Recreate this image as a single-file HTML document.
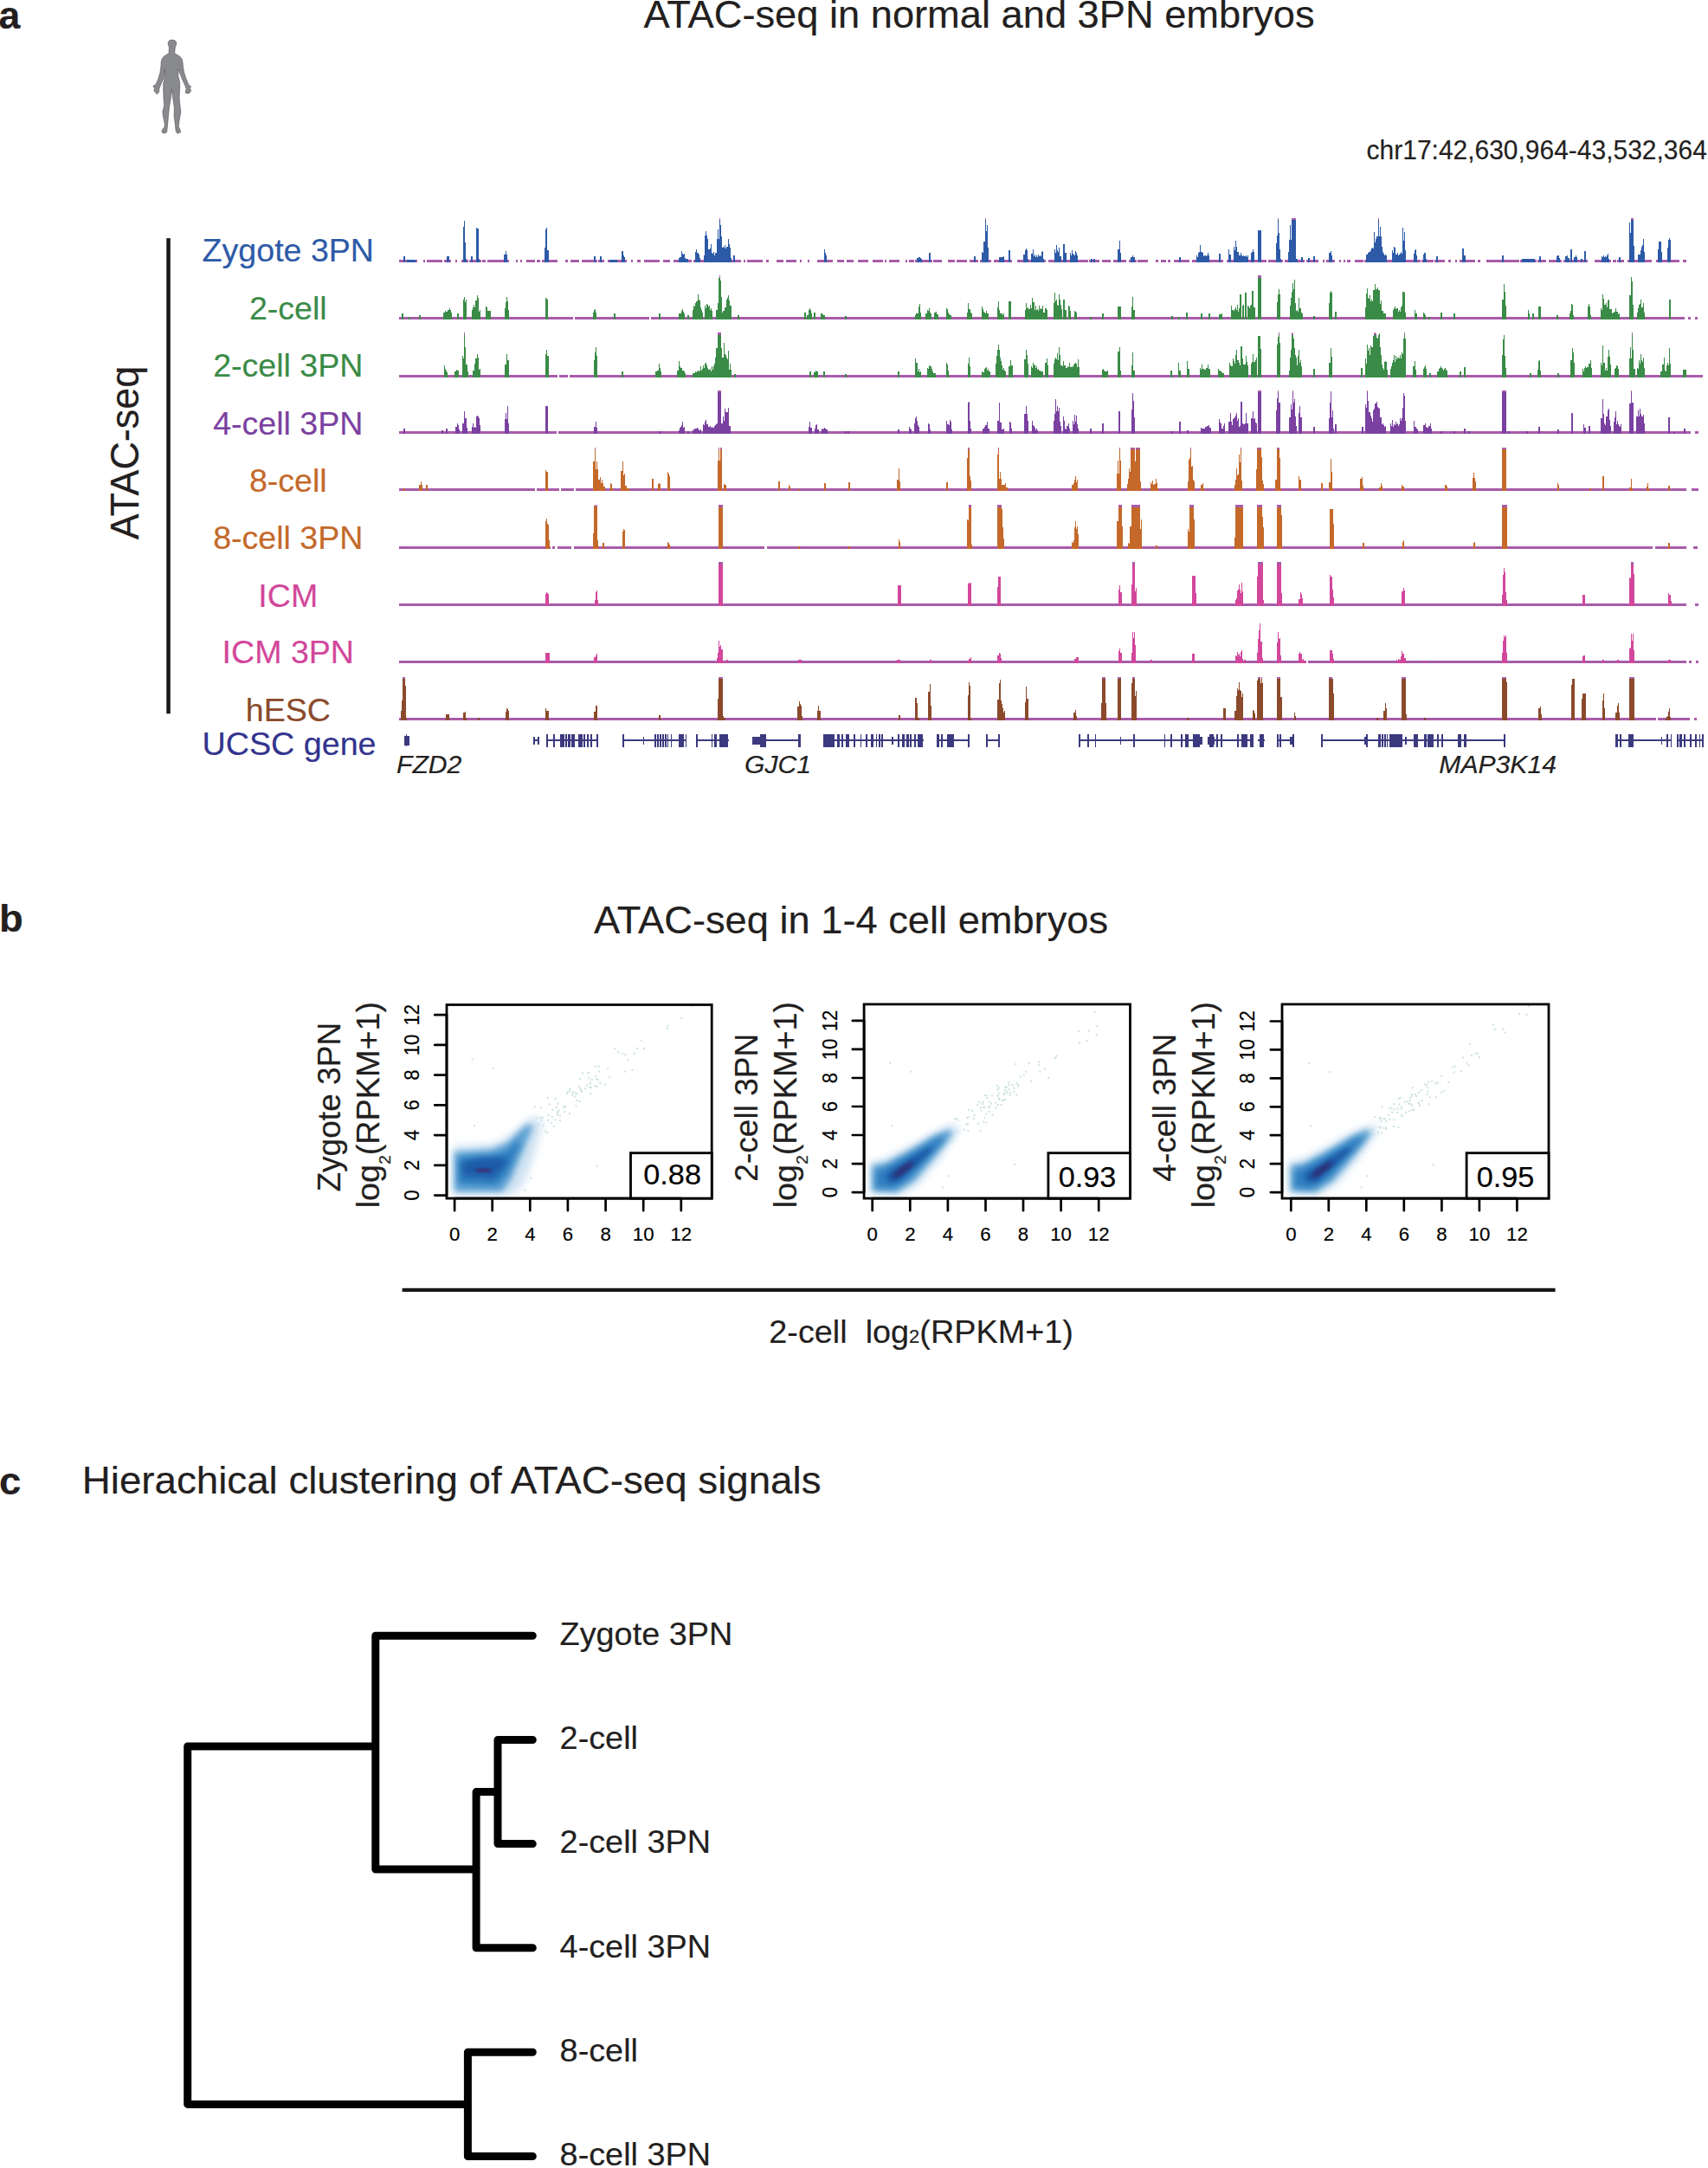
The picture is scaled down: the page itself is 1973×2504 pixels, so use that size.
<!DOCTYPE html>
<html><head><meta charset="utf-8"><title>ATAC-seq figure</title>
<style>html,body{margin:0;padding:0;background:#fff}svg{display:block}text{font-family:"Liberation Sans", Arial, Helvetica, sans-serif;stroke-width:0.18px;paint-order:stroke fill}</style>
</head><body>
<svg width="1973" height="2504" viewBox="0 0 1973 2504">
<rect width="1973" height="2504" fill="#fff"/>
<g shape-rendering="crispEdges">
<path d="M460.5 300.0h8.0v3h-8.0zM471.5 300.0h10.0v3h-10.0zM488.5 300.0h2.0v3h-2.0zM492.5 300.0h18.0v3h-18.0zM512.5 300.0h8.0v3h-8.0zM525.5 300.0h2.0v3h-2.0zM532.5 300.0h4.0v3h-4.0zM538.5 300.0h2.0v3h-2.0zM544.5 300.0h10.0v3h-10.0zM556.5 300.0h4.0v3h-4.0zM562.5 300.0h18.0v3h-18.0zM584.5 300.0h2.0v3h-2.0zM595.5 300.0h2.0v3h-2.0zM600.5 300.0h2.0v3h-2.0zM607.5 300.0h10.0v3h-10.0zM619.5 300.0h4.0v3h-4.0zM625.5 300.0h18.0v3h-18.0zM652.5 300.0h3.0v3h-3.0zM658.5 300.0h10.0v3h-10.0zM671.5 300.0h18.0v3h-18.0zM691.5 300.0h6.0v3h-6.0zM702.5 300.0h3.0v3h-3.0zM707.5 300.0h4.0v3h-4.0zM714.5 300.0h2.0v3h-2.0zM721.5 300.0h2.0v3h-2.0zM728.5 300.0h2.0v3h-2.0zM735.5 300.0h4.0v3h-4.0zM743.5 300.0h18.0v3h-18.0zM765.5 300.0h8.0v3h-8.0zM777.5 300.0h12.0v3h-12.0zM792.5 300.0h6.0v3h-6.0zM801.5 300.0h3.0v3h-3.0zM811.5 300.0h4.0v3h-4.0zM817.5 300.0h6.0v3h-6.0zM828.5 300.0h12.0v3h-12.0zM843.5 300.0h12.0v3h-12.0zM858.5 300.0h2.0v3h-2.0zM862.5 300.0h18.0v3h-18.0zM884.5 300.0h3.0v3h-3.0zM896.5 300.0h8.0v3h-8.0zM907.5 300.0h12.0v3h-12.0zM923.5 300.0h2.0v3h-2.0zM932.5 300.0h2.0v3h-2.0zM943.5 300.0h18.0v3h-18.0zM966.5 300.0h8.0v3h-8.0zM977.5 300.0h8.0v3h-8.0zM990.5 300.0h12.0v3h-12.0zM1007.5 300.0h12.0v3h-12.0zM1021.5 300.0h2.0v3h-2.0zM1026.5 300.0h12.0v3h-12.0zM1045.5 300.0h2.0v3h-2.0zM1049.5 300.0h6.0v3h-6.0zM1062.5 300.0h12.0v3h-12.0zM1077.5 300.0h10.0v3h-10.0zM1094.5 300.0h8.0v3h-8.0zM1104.5 300.0h12.0v3h-12.0zM1119.5 300.0h3.0v3h-3.0zM1127.5 300.0h2.0v3h-2.0zM1133.5 300.0h2.0v3h-2.0zM1138.5 300.0h6.0v3h-6.0zM1147.5 300.0h4.0v3h-4.0zM1155.5 300.0h10.0v3h-10.0zM1174.5 300.0h12.0v3h-12.0zM1188.5 300.0h3.0v3h-3.0zM1195.5 300.0h10.0v3h-10.0zM1210.5 300.0h6.0v3h-6.0zM1219.5 300.0h10.0v3h-10.0zM1238.5 300.0h18.0v3h-18.0zM1259.5 300.0h10.0v3h-10.0zM1272.5 300.0h10.0v3h-10.0zM1285.5 300.0h3.0v3h-3.0zM1290.5 300.0h3.0v3h-3.0zM1296.5 300.0h4.0v3h-4.0zM1307.5 300.0h4.0v3h-4.0zM1313.5 300.0h12.0v3h-12.0zM1334.5 300.0h3.0v3h-3.0zM1340.5 300.0h6.0v3h-6.0zM1348.5 300.0h3.0v3h-3.0zM1355.5 300.0h18.0v3h-18.0zM1376.5 300.0h8.0v3h-8.0zM1387.5 300.0h18.0v3h-18.0zM1410.5 300.0h2.0v3h-2.0zM1416.5 300.0h18.0v3h-18.0zM1438.5 300.0h10.0v3h-10.0zM1452.5 300.0h10.0v3h-10.0zM1464.5 300.0h12.0v3h-12.0zM1483.5 300.0h10.0v3h-10.0zM1495.5 300.0h4.0v3h-4.0zM1501.5 300.0h4.0v3h-4.0zM1509.5 300.0h3.0v3h-3.0zM1514.5 300.0h8.0v3h-8.0zM1527.5 300.0h2.0v3h-2.0zM1531.5 300.0h2.0v3h-2.0zM1538.5 300.0h3.0v3h-3.0zM1546.5 300.0h2.0v3h-2.0zM1551.5 300.0h2.0v3h-2.0zM1555.5 300.0h4.0v3h-4.0zM1564.5 300.0h10.0v3h-10.0zM1577.5 300.0h6.0v3h-6.0zM1586.5 300.0h8.0v3h-8.0zM1598.5 300.0h2.0v3h-2.0zM1602.5 300.0h12.0v3h-12.0zM1618.5 300.0h12.0v3h-12.0zM1634.5 300.0h6.0v3h-6.0zM1642.5 300.0h3.0v3h-3.0zM1647.5 300.0h8.0v3h-8.0zM1662.5 300.0h6.0v3h-6.0zM1672.5 300.0h3.0v3h-3.0zM1680.5 300.0h2.0v3h-2.0zM1685.5 300.0h18.0v3h-18.0zM1706.5 300.0h3.0v3h-3.0zM1716.5 300.0h18.0v3h-18.0zM1736.5 300.0h18.0v3h-18.0zM1757.5 300.0h2.0v3h-2.0zM1766.5 300.0h6.0v3h-6.0zM1777.5 300.0h8.0v3h-8.0zM1788.5 300.0h8.0v3h-8.0zM1805.5 300.0h4.0v3h-4.0zM1814.5 300.0h18.0v3h-18.0zM1841.5 300.0h18.0v3h-18.0zM1862.5 300.0h4.0v3h-4.0zM1871.5 300.0h4.0v3h-4.0zM1884.5 300.0h4.0v3h-4.0zM1897.5 300.0h10.0v3h-10.0zM1914.5 300.0h4.0v3h-4.0zM1921.5 300.0h18.0v3h-18.0zM1943.5 300.0h4.0v3h-4.0zM464.0 300.0h18.0v3h-18.0zM514.0 300.0h7.0v3h-7.0zM533.0 300.0h8.0v3h-8.0zM542.0 300.0h6.0v3h-6.0zM548.0 300.0h8.0v3h-8.0zM580.0 300.0h8.0v3h-8.0zM627.0 300.0h9.0v3h-9.0zM684.0 300.0h6.0v3h-6.0zM691.0 300.0h6.0v3h-6.0zM702.0 300.0h13.0v3h-13.0zM716.0 300.0h8.0v3h-8.0zM782.0 300.0h15.0v3h-15.0zM801.0 300.0h10.0v3h-10.0zM811.0 300.0h40.0v3h-40.0zM950.0 300.0h7.0v3h-7.0zM1057.0 300.0h10.0v3h-10.0zM1071.0 300.0h6.0v3h-6.0zM1123.0 300.0h6.0v3h-6.0zM1132.0 300.0h12.0v3h-12.0zM1152.0 300.0h10.0v3h-10.0zM1163.0 300.0h6.0v3h-6.0zM1180.0 300.0h10.0v3h-10.0zM1189.0 300.0h19.0v3h-19.0zM1216.0 300.0h18.0v3h-18.0zM1234.0 300.0h13.0v3h-13.0zM1258.0 300.0h9.0v3h-9.0zM1289.0 300.0h8.0v3h-8.0zM1304.0 300.0h9.0v3h-9.0zM1360.0 300.0h6.0v3h-6.0zM1380.0 300.0h19.0v3h-19.0zM1406.0 300.0h6.0v3h-6.0zM1417.0 300.0h7.0v3h-7.0zM1423.0 300.0h21.0v3h-21.0zM1443.0 300.0h8.0v3h-8.0zM1451.0 300.0h8.0v3h-8.0zM1472.0 300.0h10.0v3h-10.0zM1486.0 300.0h15.0v3h-15.0zM1501.0 300.0h6.0v3h-6.0zM1509.0 300.0h6.0v3h-6.0zM1515.0 300.0h6.0v3h-6.0zM1533.0 300.0h8.0v3h-8.0zM1576.0 300.0h28.0v3h-28.0zM1606.0 300.0h20.0v3h-20.0zM1631.0 300.0h8.0v3h-8.0zM1642.0 300.0h8.0v3h-8.0zM1657.0 300.0h6.0v3h-6.0zM1687.0 300.0h8.0v3h-8.0zM1733.0 300.0h6.0v3h-6.0zM1756.0 300.0h19.0v3h-19.0zM1776.0 300.0h6.0v3h-6.0zM1796.0 300.0h8.0v3h-8.0zM1806.0 300.0h18.0v3h-18.0zM1824.0 300.0h10.0v3h-10.0zM1848.0 300.0h13.0v3h-13.0zM1868.0 300.0h6.0v3h-6.0zM1880.0 300.0h10.0v3h-10.0zM1890.0 300.0h12.0v3h-12.0zM1913.0 300.0h9.0v3h-9.0zM1924.0 300.0h8.0v3h-8.0z" fill="#a85ca9"/>
<path d="M466 303.0V296.3H468V303.0zM470 303.0V299.7H480V303.0zM516 303.0V296.3H519V303.0zM535 303.0V261.7H536V303.0zM536 303.0V255.2H537V303.0zM537 303.0V279.5H538V303.0zM538 303.0V298.5H539V303.0zM544 303.0V296.3H546V303.0zM550 303.0V263.4H551V303.0zM551 303.0V263.9H553V303.0zM553 303.0V298.5H554V303.0zM582 303.0V293.5H584V303.0zM584 303.0V289.9H585V303.0zM585 303.0V293.9H586V303.0zM629 303.0V285.5H630V303.0zM630 303.0V265.0H631V303.0zM631 303.0V263.4H632V303.0zM632 303.0V288.5H634V303.0zM686 303.0V296.3H688V303.0zM693 303.0V296.3H695V303.0zM704 303.0V299.7H713V303.0zM718 303.0V289.9H719V303.0zM719 303.0V290.4H720V303.0zM720 303.0V295.4H721V303.0zM721 303.0V297.0H722V303.0zM784 303.0V297.5H785V303.0zM785 303.0V296.9H787V303.0zM787 303.0V289.9H788V303.0zM788 303.0V292.5H789V303.0zM789 303.0V293.8H790V303.0zM790 303.0V293.3H791V303.0zM791 303.0V298.2H792V303.0zM792 303.0V298.7H793V303.0zM793 303.0V298.6H794V303.0zM794 303.0V298.5H795V303.0zM803 303.0V290.8H804V303.0zM804 303.0V287.8H805V303.0zM805 303.0V291.7H807V303.0zM807 303.0V294.3H808V303.0zM808 303.0V297.5H809V303.0zM813 303.0V295.4H814V303.0zM814 303.0V272.4H815V303.0zM815 303.0V266.5H816V303.0zM816 303.0V272.4H817V303.0zM817 303.0V275.6H818V303.0zM818 303.0V288.3H820V303.0zM820 303.0V287.1H821V303.0zM821 303.0V281.7H822V303.0zM822 303.0V292.4H823V303.0zM823 303.0V292.7H824V303.0zM824 303.0V290.8H825V303.0zM825 303.0V294.6H826V303.0zM826 303.0V292.0H828V303.0zM828 303.0V275.9H829V303.0zM829 303.0V265.0H830V303.0zM830 303.0V275.9H831V303.0zM831 303.0V251.9H832V303.0zM832 303.0V260.4H833V303.0zM833 303.0V272.5H834V303.0zM834 303.0V286.2H835V303.0zM835 303.0V284.8H836V303.0zM836 303.0V286.4H837V303.0zM837 303.0V283.2H838V303.0zM838 303.0V286.5H839V303.0zM839 303.0V284.7H841V303.0zM841 303.0V276.2H842V303.0zM842 303.0V281.5H843V303.0zM843 303.0V286.3H844V303.0zM844 303.0V297.5H845V303.0zM847 303.0V294.8H849V303.0zM952 303.0V288.4H953V303.0zM953 303.0V291.6H954V303.0zM954 303.0V295.4H955V303.0zM1059 303.0V298.0H1061V303.0zM1061 303.0V296.9H1062V303.0zM1062 303.0V297.1H1063V303.0zM1063 303.0V298.0H1064V303.0zM1064 303.0V298.5H1065V303.0zM1073 303.0V291.8H1075V303.0zM1125 303.0V296.3H1127V303.0zM1134 303.0V290.8H1135V303.0zM1135 303.0V292.0H1136V303.0zM1136 303.0V278.7H1137V303.0zM1137 303.0V279.4H1138V303.0zM1138 303.0V251.9H1139V303.0zM1139 303.0V267.4H1140V303.0zM1140 303.0V260.4H1141V303.0zM1141 303.0V286.2H1142V303.0zM1154 303.0V296.8H1156V303.0zM1156 303.0V296.6H1157V303.0zM1157 303.0V296.5H1159V303.0zM1159 303.0V296.3H1160V303.0zM1165 303.0V288.7H1167V303.0zM1182 303.0V293.9H1183V303.0zM1183 303.0V294.4H1184V303.0zM1184 303.0V289.3H1185V303.0zM1185 303.0V286.9H1186V303.0zM1186 303.0V288.9H1187V303.0zM1187 303.0V298.5H1188V303.0zM1191 303.0V293.2H1193V303.0zM1193 303.0V288.4H1194V303.0zM1194 303.0V295.8H1195V303.0zM1195 303.0V293.9H1196V303.0zM1196 303.0V297.1H1197V303.0zM1197 303.0V295.4H1198V303.0zM1198 303.0V296.6H1199V303.0zM1199 303.0V293.9H1200V303.0zM1200 303.0V296.3H1201V303.0zM1201 303.0V295.4H1202V303.0zM1202 303.0V295.5H1203V303.0zM1203 303.0V291.1H1204V303.0zM1204 303.0V289.9H1205V303.0zM1205 303.0V298.5H1206V303.0zM1218 303.0V287.8H1219V303.0zM1219 303.0V292.0H1220V303.0zM1220 303.0V283.2H1221V303.0zM1221 303.0V289.0H1222V303.0zM1222 303.0V290.9H1223V303.0zM1223 303.0V286.3H1224V303.0zM1224 303.0V296.4H1226V303.0zM1228 303.0V281.7H1230V303.0zM1230 303.0V292.4H1232V303.0zM1236 303.0V292.4H1237V303.0zM1237 303.0V294.9H1238V303.0zM1238 303.0V289.3H1239V303.0zM1239 303.0V292.5H1240V303.0zM1240 303.0V293.9H1241V303.0zM1241 303.0V295.1H1242V303.0zM1242 303.0V289.9H1243V303.0zM1243 303.0V291.5H1244V303.0zM1244 303.0V295.4H1245V303.0zM1260 303.0V298.5H1262V303.0zM1263 303.0V299.4H1265V303.0zM1291 303.0V287.8H1293V303.0zM1293 303.0V278.1H1294V303.0zM1294 303.0V292.1H1295V303.0zM1306 303.0V296.8H1308V303.0zM1308 303.0V294.8H1309V303.0zM1309 303.0V297.2H1311V303.0zM1362 303.0V296.9H1364V303.0zM1382 303.0V295.4H1383V303.0zM1383 303.0V296.7H1384V303.0zM1384 303.0V292.3H1385V303.0zM1385 303.0V290.8H1386V303.0zM1386 303.0V283.2H1387V303.0zM1387 303.0V291.1H1389V303.0zM1389 303.0V292.4H1390V303.0zM1390 303.0V296.3H1391V303.0zM1391 303.0V295.0H1392V303.0zM1392 303.0V295.4H1393V303.0zM1393 303.0V295.9H1394V303.0zM1394 303.0V295.1H1395V303.0zM1395 303.0V291.8H1396V303.0zM1396 303.0V295.4H1397V303.0zM1408 303.0V293.3H1410V303.0zM1419 303.0V288.4H1420V303.0zM1420 303.0V293.8H1422V303.0zM1425 303.0V284.8H1426V303.0zM1426 303.0V288.6H1427V303.0zM1427 303.0V278.1H1428V303.0zM1428 303.0V284.8H1429V303.0zM1429 303.0V290.7H1431V303.0zM1431 303.0V295.0H1433V303.0zM1433 303.0V292.4H1434V303.0zM1434 303.0V295.3H1435V303.0zM1435 303.0V295.9H1436V303.0zM1436 303.0V295.4H1437V303.0zM1437 303.0V295.8H1439V303.0zM1439 303.0V294.5H1440V303.0zM1440 303.0V297.0H1441V303.0zM1441 303.0V295.4H1442V303.0zM1445 303.0V292.1H1446V303.0zM1446 303.0V290.8H1447V303.0zM1447 303.0V288.4H1448V303.0zM1448 303.0V290.8H1449V303.0zM1453 303.0V265.6H1457V303.0zM1474 303.0V281.1H1475V303.0zM1475 303.0V272.4H1476V303.0zM1476 303.0V251.9H1477V303.0zM1477 303.0V268.8H1478V303.0zM1478 303.0V288.4H1479V303.0zM1479 303.0V298.5H1480V303.0zM1488 303.0V290.8H1489V303.0zM1489 303.0V276.6H1490V303.0zM1490 303.0V260.4H1491V303.0zM1491 303.0V276.6H1492V303.0zM1492 303.0V251.9H1497V303.0zM1497 303.0V298.8H1498V303.0zM1498 303.0V298.5H1499V303.0zM1503 303.0V296.9H1505V303.0zM1511 303.0V297.5H1513V303.0zM1517 303.0V296.3H1519V303.0zM1535 303.0V292.1H1537V303.0zM1537 303.0V289.9H1538V303.0zM1538 303.0V295.4H1539V303.0zM1578 303.0V293.5H1580V303.0zM1580 303.0V292.4H1581V303.0zM1581 303.0V291.0H1583V303.0zM1583 303.0V289.3H1584V303.0zM1584 303.0V286.7H1585V303.0zM1585 303.0V286.3H1586V303.0zM1586 303.0V286.7H1587V303.0zM1587 303.0V268.0H1588V303.0zM1588 303.0V280.4H1589V303.0zM1589 303.0V275.6H1590V303.0zM1590 303.0V272.6H1591V303.0zM1591 303.0V273.1H1592V303.0zM1592 303.0V251.9H1593V303.0zM1593 303.0V273.0H1594V303.0zM1594 303.0V261.9H1595V303.0zM1595 303.0V273.0H1596V303.0zM1596 303.0V284.8H1597V303.0zM1597 303.0V290.8H1598V303.0zM1598 303.0V293.0H1599V303.0zM1599 303.0V294.8H1600V303.0zM1600 303.0V293.9H1601V303.0zM1601 303.0V294.8H1602V303.0zM1608 303.0V289.3H1609V303.0zM1609 303.0V291.8H1610V303.0zM1610 303.0V284.8H1611V303.0zM1611 303.0V286.3H1612V303.0zM1612 303.0V294.0H1614V303.0zM1614 303.0V292.4H1615V303.0zM1615 303.0V294.5H1616V303.0zM1616 303.0V293.9H1617V303.0zM1617 303.0V292.6H1618V303.0zM1618 303.0V290.8H1619V303.0zM1619 303.0V292.6H1620V303.0zM1620 303.0V263.4H1621V303.0zM1621 303.0V278.1H1622V303.0zM1622 303.0V268.0H1623V303.0zM1623 303.0V288.5H1624V303.0zM1633 303.0V293.1H1634V303.0zM1634 303.0V288.6H1635V303.0zM1635 303.0V288.4H1636V303.0zM1636 303.0V295.4H1637V303.0zM1644 303.0V293.5H1645V303.0zM1645 303.0V292.4H1646V303.0zM1646 303.0V291.8H1647V303.0zM1647 303.0V298.5H1648V303.0zM1659 303.0V296.3H1661V303.0zM1689 303.0V286.9H1691V303.0zM1691 303.0V295.4H1693V303.0zM1735 303.0V294.8H1737V303.0zM1758 303.0V299.4H1773V303.0zM1778 303.0V296.3H1780V303.0zM1798 303.0V296.3H1799V303.0zM1799 303.0V295.4H1800V303.0zM1800 303.0V294.8H1801V303.0zM1801 303.0V298.2H1802V303.0zM1808 303.0V295.9H1810V303.0zM1810 303.0V295.4H1811V303.0zM1811 303.0V298.0H1813V303.0zM1814 303.0V288.4H1816V303.0zM1818 303.0V296.5H1820V303.0zM1820 303.0V295.4H1821V303.0zM1821 303.0V297.2H1822V303.0zM1826 303.0V298.5H1828V303.0zM1830 303.0V289.9H1832V303.0zM1850 303.0V296.3H1851V303.0zM1851 303.0V297.1H1852V303.0zM1852 303.0V294.8H1853V303.0zM1853 303.0V297.1H1854V303.0zM1854 303.0V296.3H1855V303.0zM1855 303.0V296.9H1856V303.0zM1856 303.0V295.2H1857V303.0zM1857 303.0V293.3H1858V303.0zM1858 303.0V298.5H1859V303.0zM1870 303.0V296.9H1872V303.0zM1882 303.0V257.4H1883V303.0zM1883 303.0V269.3H1884V303.0zM1884 303.0V251.9H1887V303.0zM1887 303.0V284.3H1888V303.0zM1892 303.0V293.9H1893V303.0zM1893 303.0V294.2H1895V303.0zM1895 303.0V288.6H1896V303.0zM1896 303.0V284.8H1897V303.0zM1897 303.0V283.2H1898V303.0zM1898 303.0V275.6H1899V303.0zM1899 303.0V290.8H1900V303.0zM1915 303.0V287.8H1916V303.0zM1916 303.0V279.1H1917V303.0zM1917 303.0V278.7H1918V303.0zM1918 303.0V279.1H1919V303.0zM1919 303.0V290.8H1920V303.0zM1926 303.0V285.8H1927V303.0zM1927 303.0V277.1H1928V303.0zM1928 303.0V275.0H1929V303.0zM1929 303.0V277.1H1930V303.0z" fill="#2d5aa7"/>
<path d="M831 251.9h1v2.2h-1zM1138 251.9h1v2.2h-1zM1476 251.9h1v2.2h-1zM1492 251.9h5v2.2h-5zM1592 251.9h1v2.2h-1zM1884 251.9h3v2.2h-3z" fill="#a85ca9"/>
<path d="M460.5 366.1H1946.0v3H460.5zM1950.0 366.1H1953.0v3H1950.0zM1958.0 366.1H1961.0v3H1958.0z" fill="#a85ca9"/>
<path d="M464 369.1V361.5H466V369.1zM472 369.1V365.5H474V369.1zM484 369.1V363.9H486V369.1zM512 369.1V360.9H513V369.1zM513 369.1V360.6H514V369.1zM514 369.1V359.4H515V369.1zM515 369.1V359.9H517V369.1zM517 369.1V357.7H519V369.1zM519 369.1V355.7H520V369.1zM520 369.1V357.7H521V369.1zM521 369.1V360.9H522V369.1zM528 369.1V362.4H530V369.1zM535 369.1V345.7H536V369.1zM536 369.1V343.2H537V369.1zM537 369.1V349.1H538V369.1zM538 369.1V345.7H539V369.1zM545 369.1V357.9H546V369.1zM546 369.1V354.5H547V369.1zM547 369.1V351.8H548V369.1zM548 369.1V355.3H549V369.1zM549 369.1V347.2H550V369.1zM550 369.1V347.3H551V369.1zM551 369.1V341.1H552V369.1zM552 369.1V344.2H553V369.1zM553 369.1V359.9H554V369.1zM554 369.1V357.9H555V369.1zM561 369.1V354.2H562V369.1zM562 369.1V354.7H563V369.1zM563 369.1V358.9H565V369.1zM565 369.1V358.7H566V369.1zM566 369.1V358.5H567V369.1zM583 369.1V356.1H584V369.1zM584 369.1V348.7H585V369.1zM585 369.1V342.6H586V369.1zM586 369.1V348.2H587V369.1zM587 369.1V357.9H588V369.1zM630 369.1V344.2H631V369.1zM631 369.1V344.7H632V369.1zM632 369.1V345.7H633V369.1zM685 369.1V360.9H686V369.1zM686 369.1V357.9H687V369.1zM687 369.1V357.2H688V369.1zM688 369.1V360.9H689V369.1zM709 369.1V361.5H711V369.1zM761 369.1V362.4H763V369.1zM784 369.1V361.7H787V369.1zM787 369.1V359.3H788V369.1zM788 369.1V357.2H789V369.1zM789 369.1V360.4H790V369.1zM790 369.1V362.4H791V369.1zM794 369.1V363.9H796V369.1zM800 369.1V357.9H801V369.1zM801 369.1V353.3H802V369.1zM802 369.1V354.2H803V369.1zM803 369.1V350.2H804V369.1zM804 369.1V348.1H806V369.1zM806 369.1V339.6H807V369.1zM807 369.1V345.7H808V369.1zM808 369.1V346.7H809V369.1zM809 369.1V354.8H810V369.1zM810 369.1V357.9H811V369.1zM811 369.1V360.9H812V369.1zM814 369.1V353.3H815V369.1zM815 369.1V355.5H816V369.1zM816 369.1V351.2H817V369.1zM817 369.1V351.7H818V369.1zM818 369.1V353.6H819V369.1zM819 369.1V353.3H820V369.1zM820 369.1V358.4H821V369.1zM821 369.1V356.3H822V369.1zM822 369.1V359.2H823V369.1zM827 369.1V357.9H829V369.1zM829 369.1V350.1H830V369.1zM830 369.1V321.3H831V369.1zM831 369.1V318.3H832V369.1zM832 369.1V324.4H833V369.1zM833 369.1V342.9H834V369.1zM834 369.1V360.9H835V369.1zM835 369.1V359.3H837V369.1zM837 369.1V354.8H838V369.1zM838 369.1V354.9H839V369.1zM839 369.1V345.7H840V369.1zM840 369.1V343.9H841V369.1zM841 369.1V341.1H842V369.1zM842 369.1V347.2H843V369.1zM843 369.1V352.6H845V369.1zM852 369.1V363.9H854V369.1zM929 369.1V360.9H931V369.1zM932 369.1V363.9H934V369.1zM934 369.1V358.3H935V369.1zM935 369.1V355.7H936V369.1zM936 369.1V358.4H937V369.1zM937 369.1V361.6H938V369.1zM940 369.1V360.9H942V369.1zM948 369.1V362.1H950V369.1zM950 369.1V362.6H951V369.1zM951 369.1V363.8H953V369.1zM976 369.1V364.6H978V369.1zM1057 369.1V363.9H1058V369.1zM1058 369.1V361.9H1059V369.1zM1059 369.1V361.5H1060V369.1zM1060 369.1V361.9H1061V369.1zM1061 369.1V353.8H1062V369.1zM1062 369.1V351.2H1063V369.1zM1063 369.1V360.9H1064V369.1zM1069 369.1V362.4H1070V369.1zM1070 369.1V362.0H1071V369.1zM1071 369.1V357.9H1072V369.1zM1072 369.1V358.9H1073V369.1zM1073 369.1V355.7H1074V369.1zM1074 369.1V360.7H1075V369.1zM1075 369.1V362.4H1076V369.1zM1079 369.1V361.2H1081V369.1zM1081 369.1V360.3H1082V369.1zM1082 369.1V362.5H1084V369.1zM1093 369.1V356.3H1094V369.1zM1094 369.1V357.1H1095V369.1zM1095 369.1V361.3H1096V369.1zM1096 369.1V362.8H1097V369.1zM1097 369.1V363.8H1099V369.1zM1117 369.1V360.9H1118V369.1zM1118 369.1V349.6H1119V369.1zM1119 369.1V356.8H1121V369.1zM1121 369.1V361.3H1122V369.1zM1122 369.1V362.4H1123V369.1zM1134 369.1V354.2H1135V369.1zM1135 369.1V356.7H1136V369.1zM1136 369.1V360.1H1137V369.1zM1137 369.1V360.9H1138V369.1zM1138 369.1V362.2H1139V369.1zM1139 369.1V359.4H1140V369.1zM1140 369.1V362.3H1141V369.1zM1141 369.1V361.5H1142V369.1zM1152 369.1V354.7H1153V369.1zM1153 369.1V348.1H1154V369.1zM1154 369.1V357.9H1155V369.1zM1155 369.1V361.8H1156V369.1zM1156 369.1V362.1H1157V369.1zM1157 369.1V361.5H1158V369.1zM1158 369.1V364.3H1159V369.1zM1159 369.1V362.4H1160V369.1zM1165 369.1V348.1H1168V369.1zM1184 369.1V357.9H1185V369.1zM1185 369.1V349.6H1186V369.1zM1186 369.1V356.4H1187V369.1zM1187 369.1V354.8H1188V369.1zM1188 369.1V356.7H1190V369.1zM1190 369.1V351.8H1191V369.1zM1191 369.1V355.5H1192V369.1zM1192 369.1V344.2H1193V369.1zM1193 369.1V348.8H1195V369.1zM1195 369.1V357.8H1196V369.1zM1196 369.1V353.3H1197V369.1zM1197 369.1V357.8H1198V369.1zM1198 369.1V357.2H1199V369.1zM1199 369.1V358.9H1200V369.1zM1200 369.1V353.3H1201V369.1zM1201 369.1V356.8H1202V369.1zM1202 369.1V356.3H1203V369.1zM1203 369.1V357.1H1204V369.1zM1204 369.1V353.3H1205V369.1zM1205 369.1V360.6H1207V369.1zM1207 369.1V356.3H1208V369.1zM1208 369.1V356.4H1209V369.1zM1209 369.1V357.9H1210V369.1zM1217 369.1V350.2H1218V369.1zM1218 369.1V338.1H1219V369.1zM1219 369.1V348.1H1220V369.1zM1220 369.1V345.7H1221V369.1zM1221 369.1V351.8H1222V369.1zM1222 369.1V353.3H1223V369.1zM1223 369.1V340.2H1224V369.1zM1224 369.1V345.5H1225V369.1zM1225 369.1V351.8H1226V369.1zM1226 369.1V357.4H1227V369.1zM1228 369.1V345.7H1230V369.1zM1230 369.1V357.9H1232V369.1zM1234 369.1V352.7H1235V369.1zM1235 369.1V353.6H1236V369.1zM1236 369.1V359.4H1237V369.1zM1241 369.1V359.4H1242V369.1zM1242 369.1V359.9H1243V369.1zM1243 369.1V361.2H1244V369.1zM1259 369.1V365.5H1261V369.1zM1273 369.1V362.4H1275V369.1zM1291 369.1V354.2H1295V369.1zM1307 369.1V353.8H1308V369.1zM1308 369.1V343.2H1309V369.1zM1309 369.1V357.8H1311V369.1zM1353 369.1V364.6H1355V369.1zM1361 369.1V365.5H1363V369.1zM1370 369.1V360.9H1372V369.1zM1387 369.1V362.4H1389V369.1zM1396 369.1V362.4H1398V369.1zM1408 369.1V363.3H1409V369.1zM1409 369.1V363.0H1411V369.1zM1411 369.1V362.4H1412V369.1zM1422 369.1V353.3H1423V369.1zM1423 369.1V358.0H1424V369.1zM1424 369.1V357.9H1425V369.1zM1425 369.1V359.4H1426V369.1zM1426 369.1V357.0H1427V369.1zM1427 369.1V354.8H1428V369.1zM1428 369.1V358.1H1429V369.1zM1429 369.1V351.8H1430V369.1zM1430 369.1V360.3H1431V369.1zM1431 369.1V356.3H1432V369.1zM1432 369.1V340.2H1434V369.1zM1435 369.1V353.2H1436V369.1zM1436 369.1V351.8H1437V369.1zM1438 369.1V338.1H1440V369.1zM1441 369.1V353.3H1442V369.1zM1442 369.1V354.3H1443V369.1zM1443 369.1V355.9H1444V369.1zM1444 369.1V352.9H1445V369.1zM1445 369.1V351.8H1446V369.1zM1446 369.1V335.9H1448V369.1zM1448 369.1V354.8H1450V369.1zM1453 369.1V318.3H1457V369.1zM1475 369.1V349.0H1476V369.1zM1476 369.1V340.2H1477V369.1zM1477 369.1V333.5H1478V369.1zM1478 369.1V340.2H1479V369.1zM1490 369.1V353.0H1491V369.1zM1491 369.1V344.2H1492V369.1zM1492 369.1V336.7H1493V369.1zM1493 369.1V327.4H1494V369.1zM1494 369.1V334.1H1495V369.1zM1495 369.1V322.8H1496V369.1zM1496 369.1V350.2H1497V369.1zM1497 369.1V358.9H1498V369.1zM1498 369.1V357.9H1499V369.1zM1499 369.1V359.7H1500V369.1zM1500 369.1V344.2H1501V369.1zM1501 369.1V355.9H1503V369.1zM1503 369.1V361.1H1504V369.1zM1504 369.1V362.4H1505V369.1zM1517 369.1V364.6H1519V369.1zM1535 369.1V350.2H1536V369.1zM1536 369.1V338.3H1537V369.1zM1537 369.1V335.9H1538V369.1zM1538 369.1V338.3H1539V369.1zM1542 369.1V360.3H1544V369.1zM1577 369.1V354.8H1578V369.1zM1578 369.1V339.3H1579V369.1zM1579 369.1V332.9H1580V369.1zM1580 369.1V344.2H1581V369.1zM1581 369.1V344.9H1582V369.1zM1582 369.1V341.1H1583V369.1zM1583 369.1V348.4H1584V369.1zM1584 369.1V345.7H1585V369.1zM1585 369.1V348.4H1586V369.1zM1586 369.1V334.9H1588V369.1zM1588 369.1V328.0H1589V369.1zM1589 369.1V333.6H1591V369.1zM1591 369.1V332.0H1592V369.1zM1592 369.1V335.4H1593V369.1zM1593 369.1V335.0H1594V369.1zM1594 369.1V350.9H1595V369.1zM1595 369.1V347.2H1596V369.1zM1596 369.1V358.8H1598V369.1zM1598 369.1V361.9H1600V369.1zM1600 369.1V361.5H1601V369.1zM1609 369.1V357.9H1610V369.1zM1610 369.1V356.2H1611V369.1zM1611 369.1V354.2H1612V369.1zM1612 369.1V357.3H1613V369.1zM1613 369.1V355.6H1615V369.1zM1615 369.1V359.9H1616V369.1zM1616 369.1V357.9H1617V369.1zM1617 369.1V360.3H1618V369.1zM1618 369.1V354.8H1619V369.1zM1619 369.1V353.4H1620V369.1zM1620 369.1V336.5H1621V369.1zM1621 369.1V337.3H1622V369.1zM1622 369.1V338.1H1623V369.1zM1623 369.1V360.9H1624V369.1zM1634 369.1V357.9H1635V369.1zM1635 369.1V361.7H1637V369.1zM1644 369.1V360.9H1645V369.1zM1645 369.1V362.1H1646V369.1zM1646 369.1V363.9H1647V369.1zM1650 369.1V365.5H1652V369.1zM1664 369.1V360.9H1666V369.1zM1679 369.1V361.5H1681V369.1zM1735 369.1V345.6H1737V369.1zM1737 369.1V328.0H1738V369.1zM1738 369.1V336.9H1739V369.1zM1739 369.1V353.3H1740V369.1zM1765 369.1V357.9H1766V369.1zM1766 369.1V361.6H1767V369.1zM1770 369.1V362.4H1772V369.1zM1777 369.1V354.2H1780V369.1zM1798 369.1V363.9H1800V369.1zM1813 369.1V362.4H1814V369.1zM1814 369.1V358.6H1815V369.1zM1815 369.1V351.2H1816V369.1zM1816 369.1V351.8H1817V369.1zM1817 369.1V363.9H1818V369.1zM1834 369.1V354.2H1835V369.1zM1835 369.1V351.2H1836V369.1zM1836 369.1V354.2H1837V369.1zM1837 369.1V363.9H1838V369.1zM1849 369.1V356.3H1850V369.1zM1850 369.1V358.3H1851V369.1zM1851 369.1V339.6H1852V369.1zM1852 369.1V345.4H1853V369.1zM1853 369.1V351.8H1854V369.1zM1854 369.1V352.0H1855V369.1zM1855 369.1V350.2H1856V369.1zM1856 369.1V355.0H1857V369.1zM1857 369.1V346.8H1858V369.1zM1858 369.1V345.7H1859V369.1zM1859 369.1V356.8H1862V369.1zM1862 369.1V361.8H1863V369.1zM1863 369.1V361.4H1864V369.1zM1864 369.1V360.9H1865V369.1zM1865 369.1V359.8H1866V369.1zM1866 369.1V355.7H1867V369.1zM1867 369.1V360.2H1869V369.1zM1869 369.1V362.6H1870V369.1zM1870 369.1V362.4H1871V369.1zM1882 369.1V341.2H1884V369.1zM1884 369.1V319.8H1885V369.1zM1885 369.1V324.9H1886V369.1zM1886 369.1V351.8H1887V369.1zM1891 369.1V360.9H1892V369.1zM1892 369.1V355.8H1893V369.1zM1893 369.1V351.8H1894V369.1zM1894 369.1V351.2H1895V369.1zM1895 369.1V345.7H1896V369.1zM1896 369.1V354.8H1897V369.1zM1897 369.1V355.1H1898V369.1zM1898 369.1V350.2H1899V369.1zM1899 369.1V360.9H1900V369.1zM1928 369.1V345.7H1930V369.1z" fill="#3a8b47"/>
<path d="M831 318.3h1v2.2h-1zM1453 318.3h4v2.2h-4z" fill="#a85ca9"/>
<path d="M460.5 432.5H1967.0v3H460.5z" fill="#a85ca9"/>
<path d="M513 435.5V422.4H514V435.5zM514 435.5V426.1H515V435.5zM515 435.5V427.9H516V435.5zM516 435.5V429.5H517V435.5zM525 435.5V429.3H527V435.5zM527 435.5V427.3H528V435.5zM528 435.5V428.4H530V435.5zM534 435.5V411.2H535V435.5zM535 435.5V413.7H536V435.5zM536 435.5V384.4H537V435.5zM537 435.5V400.5H538V435.5zM538 435.5V421.1H540V435.5zM540 435.5V429.4H541V435.5zM546 435.5V427.9H547V435.5zM547 435.5V428.2H548V435.5zM548 435.5V420.3H549V435.5zM549 435.5V414.2H550V435.5zM550 435.5V414.1H551V435.5zM551 435.5V409.0H552V435.5zM552 435.5V413.0H553V435.5zM553 435.5V427.2H554V435.5zM554 435.5V426.4H555V435.5zM583 435.5V421.3H585V435.5zM585 435.5V409.0H586V435.5zM586 435.5V416.0H588V435.5zM630 435.5V408.9H631V435.5zM631 435.5V404.2H632V435.5zM632 435.5V410.9H634V435.5zM686 435.5V415.7H687V435.5zM687 435.5V407.1H688V435.5zM688 435.5V401.1H689V435.5zM689 435.5V411.3H690V435.5zM718 435.5V429.4H720V435.5zM757 435.5V429.4H758V435.5zM758 435.5V429.1H759V435.5zM759 435.5V427.9H760V435.5zM760 435.5V428.1H761V435.5zM761 435.5V420.3H762V435.5zM762 435.5V425.2H763V435.5zM763 435.5V429.4H764V435.5zM782 435.5V427.7H784V435.5zM784 435.5V417.3H785V435.5zM785 435.5V423.3H786V435.5zM786 435.5V424.7H787V435.5zM787 435.5V424.9H788V435.5zM788 435.5V427.6H789V435.5zM789 435.5V427.9H790V435.5zM790 435.5V429.1H791V435.5zM791 435.5V431.0H792V435.5zM800 435.5V430.6H803V435.5zM803 435.5V429.4H804V435.5zM804 435.5V429.9H805V435.5zM805 435.5V428.6H806V435.5zM806 435.5V427.9H807V435.5zM807 435.5V428.6H808V435.5zM808 435.5V427.5H809V435.5zM809 435.5V423.3H810V435.5zM810 435.5V427.5H811V435.5zM811 435.5V426.4H812V435.5zM812 435.5V421.8H813V435.5zM813 435.5V425.1H814V435.5zM814 435.5V420.4H815V435.5zM815 435.5V418.8H816V435.5zM816 435.5V422.1H817V435.5zM817 435.5V424.9H818V435.5zM818 435.5V427.2H820V435.5zM820 435.5V426.4H821V435.5zM821 435.5V428.7H822V435.5zM822 435.5V423.3H823V435.5zM823 435.5V426.8H824V435.5zM824 435.5V423.1H825V435.5zM825 435.5V420.3H826V435.5zM826 435.5V412.7H827V435.5zM827 435.5V402.3H829V435.5zM829 435.5V384.4H833V435.5zM833 435.5V401.8H834V435.5zM834 435.5V412.6H836V435.5zM836 435.5V395.9H837V435.5zM837 435.5V408.6H838V435.5zM838 435.5V409.6H839V435.5zM839 435.5V412.7H840V435.5zM840 435.5V414.7H841V435.5zM841 435.5V405.1H842V435.5zM842 435.5V427.0H843V435.5zM843 435.5V420.3H844V435.5zM844 435.5V427.0H845V435.5zM848 435.5V431.6H850V435.5zM935 435.5V429.4H937V435.5zM940 435.5V430.1H942V435.5zM942 435.5V427.9H943V435.5zM943 435.5V429.3H945V435.5zM951 435.5V429.4H953V435.5zM976 435.5V431.6H978V435.5zM1037 435.5V429.4H1039V435.5zM1057 435.5V414.2H1058V435.5zM1058 435.5V418.5H1060V435.5zM1060 435.5V428.7H1061V435.5zM1061 435.5V426.4H1062V435.5zM1062 435.5V430.0H1063V435.5zM1063 435.5V429.4H1064V435.5zM1071 435.5V424.9H1072V435.5zM1072 435.5V425.8H1073V435.5zM1073 435.5V422.4H1074V435.5zM1074 435.5V423.4H1075V435.5zM1075 435.5V423.3H1076V435.5zM1076 435.5V426.3H1077V435.5zM1077 435.5V429.4H1078V435.5zM1078 435.5V430.7H1079V435.5zM1079 435.5V431.4H1080V435.5zM1080 435.5V431.0H1081V435.5zM1093 435.5V419.4H1094V435.5zM1094 435.5V420.6H1095V435.5zM1095 435.5V427.7H1096V435.5zM1118 435.5V419.6H1119V435.5zM1119 435.5V412.7H1120V435.5zM1120 435.5V422.6H1121V435.5zM1134 435.5V429.4H1135V435.5zM1135 435.5V429.5H1137V435.5zM1137 435.5V426.4H1138V435.5zM1138 435.5V424.8H1139V435.5zM1139 435.5V424.3H1140V435.5zM1140 435.5V427.5H1141V435.5zM1141 435.5V426.4H1142V435.5zM1142 435.5V429.0H1143V435.5zM1143 435.5V429.4H1144V435.5zM1150 435.5V420.3H1151V435.5zM1151 435.5V411.2H1152V435.5zM1152 435.5V403.5H1153V435.5zM1153 435.5V397.5H1154V435.5zM1154 435.5V403.5H1155V435.5zM1155 435.5V412.7H1156V435.5zM1156 435.5V417.4H1157V435.5zM1157 435.5V421.8H1158V435.5zM1158 435.5V426.6H1159V435.5zM1159 435.5V424.9H1160V435.5zM1160 435.5V428.0H1161V435.5zM1161 435.5V429.4H1162V435.5zM1165 435.5V422.9H1167V435.5zM1167 435.5V415.7H1168V435.5zM1168 435.5V422.1H1170V435.5zM1183 435.5V415.3H1185V435.5zM1185 435.5V404.2H1186V435.5zM1186 435.5V409.6H1187V435.5zM1187 435.5V420.3H1188V435.5zM1191 435.5V423.3H1192V435.5zM1192 435.5V424.5H1193V435.5zM1193 435.5V418.8H1194V435.5zM1194 435.5V422.3H1195V435.5zM1195 435.5V421.2H1196V435.5zM1196 435.5V424.7H1197V435.5zM1197 435.5V423.3H1198V435.5zM1198 435.5V426.9H1199V435.5zM1199 435.5V426.4H1200V435.5zM1200 435.5V427.8H1202V435.5zM1202 435.5V428.9H1204V435.5zM1204 435.5V429.4H1205V435.5zM1207 435.5V418.9H1209V435.5zM1209 435.5V414.2H1210V435.5zM1210 435.5V421.6H1211V435.5zM1217 435.5V420.3H1218V435.5zM1218 435.5V415.3H1219V435.5zM1219 435.5V412.7H1220V435.5zM1220 435.5V415.3H1221V435.5zM1221 435.5V408.1H1222V435.5zM1222 435.5V416.3H1223V435.5zM1223 435.5V401.1H1224V435.5zM1224 435.5V410.1H1225V435.5zM1225 435.5V421.7H1227V435.5zM1227 435.5V422.6H1228V435.5zM1228 435.5V417.3H1229V435.5zM1229 435.5V422.4H1231V435.5zM1231 435.5V425.0H1233V435.5zM1233 435.5V423.3H1234V435.5zM1234 435.5V423.6H1235V435.5zM1235 435.5V419.4H1236V435.5zM1236 435.5V424.4H1238V435.5zM1238 435.5V423.3H1239V435.5zM1239 435.5V424.3H1240V435.5zM1240 435.5V421.2H1241V435.5zM1241 435.5V420.4H1242V435.5zM1242 435.5V418.8H1243V435.5zM1243 435.5V420.4H1244V435.5zM1244 435.5V423.5H1245V435.5zM1245 435.5V415.1H1246V435.5zM1246 435.5V423.5H1247V435.5zM1273 435.5V427.3H1274V435.5zM1274 435.5V425.5H1275V435.5zM1275 435.5V428.2H1276V435.5zM1276 435.5V429.0H1277V435.5zM1277 435.5V429.3H1279V435.5zM1279 435.5V427.9H1280V435.5zM1291 435.5V406.1H1293V435.5zM1293 435.5V401.1H1294V435.5zM1294 435.5V427.9H1295V435.5zM1307 435.5V421.5H1308V435.5zM1308 435.5V406.6H1309V435.5zM1309 435.5V427.9H1311V435.5zM1352 435.5V427.9H1354V435.5zM1361 435.5V419.4H1362V435.5zM1362 435.5V427.9H1364V435.5zM1371 435.5V417.3H1372V435.5zM1372 435.5V426.3H1374V435.5zM1386 435.5V424.9H1387V435.5zM1387 435.5V426.5H1388V435.5zM1388 435.5V421.2H1389V435.5zM1389 435.5V426.4H1391V435.5zM1391 435.5V426.6H1393V435.5zM1393 435.5V424.9H1394V435.5zM1394 435.5V425.4H1395V435.5zM1395 435.5V421.2H1396V435.5zM1396 435.5V425.8H1397V435.5zM1397 435.5V426.4H1398V435.5zM1407 435.5V426.4H1408V435.5zM1408 435.5V427.6H1410V435.5zM1410 435.5V429.4H1411V435.5zM1411 435.5V429.7H1412V435.5zM1412 435.5V430.7H1414V435.5zM1420 435.5V418.8H1421V435.5zM1421 435.5V422.3H1422V435.5zM1422 435.5V423.3H1423V435.5zM1423 435.5V422.7H1424V435.5zM1424 435.5V414.2H1425V435.5zM1425 435.5V416.6H1426V435.5zM1426 435.5V420.3H1427V435.5zM1427 435.5V410.4H1428V435.5zM1428 435.5V404.2H1429V435.5zM1429 435.5V415.9H1430V435.5zM1430 435.5V415.7H1431V435.5zM1431 435.5V418.8H1432V435.5zM1432 435.5V421.8H1433V435.5zM1433 435.5V399.9H1435V435.5zM1435 435.5V414.2H1436V435.5zM1436 435.5V420.5H1439V435.5zM1439 435.5V411.2H1440V435.5zM1440 435.5V418.1H1441V435.5zM1441 435.5V421.8H1442V435.5zM1445 435.5V420.3H1446V435.5zM1446 435.5V417.9H1447V435.5zM1447 435.5V409.0H1448V435.5zM1448 435.5V417.9H1450V435.5zM1450 435.5V416.4H1451V435.5zM1451 435.5V412.7H1452V435.5zM1453 435.5V388.3H1456V435.5zM1456 435.5V403.1H1457V435.5zM1475 435.5V398.1H1476V435.5zM1476 435.5V389.2H1477V435.5zM1477 435.5V384.4H1478V435.5zM1478 435.5V396.3H1479V435.5zM1489 435.5V427.9H1490V435.5zM1490 435.5V412.9H1491V435.5zM1491 435.5V403.6H1492V435.5zM1492 435.5V384.4H1493V435.5zM1493 435.5V384.8H1494V435.5zM1494 435.5V391.4H1495V435.5zM1495 435.5V402.3H1496V435.5zM1496 435.5V409.6H1497V435.5zM1497 435.5V413.2H1498V435.5zM1498 435.5V421.8H1499V435.5zM1499 435.5V410.5H1500V435.5zM1500 435.5V404.2H1501V435.5zM1501 435.5V419.1H1502V435.5zM1502 435.5V415.7H1503V435.5zM1503 435.5V423.2H1504V435.5zM1517 435.5V425.5H1519V435.5zM1535 435.5V419.4H1537V435.5zM1537 435.5V402.0H1538V435.5zM1538 435.5V412.0H1539V435.5zM1572 435.5V424.9H1574V435.5zM1577 435.5V414.2H1578V435.5zM1578 435.5V420.3H1579V435.5zM1579 435.5V397.5H1580V435.5zM1580 435.5V404.9H1581V435.5zM1581 435.5V402.0H1582V435.5zM1582 435.5V410.1H1583V435.5zM1583 435.5V399.0H1584V435.5zM1584 435.5V401.3H1585V435.5zM1585 435.5V400.5H1586V435.5zM1586 435.5V388.3H1587V435.5zM1587 435.5V385.0H1588V435.5zM1588 435.5V384.4H1589V435.5zM1589 435.5V385.0H1590V435.5zM1590 435.5V389.9H1591V435.5zM1591 435.5V391.4H1592V435.5zM1592 435.5V386.8H1593V435.5zM1593 435.5V385.3H1594V435.5zM1594 435.5V401.1H1595V435.5zM1595 435.5V409.6H1596V435.5zM1596 435.5V421.1H1597V435.5zM1597 435.5V424.9H1598V435.5zM1598 435.5V426.6H1599V435.5zM1599 435.5V418.1H1600V435.5zM1600 435.5V417.3H1601V435.5zM1601 435.5V418.1H1602V435.5zM1602 435.5V426.9H1603V435.5zM1606 435.5V426.4H1607V435.5zM1607 435.5V422.5H1608V435.5zM1608 435.5V418.8H1609V435.5zM1609 435.5V415.6H1610V435.5zM1610 435.5V409.6H1611V435.5zM1611 435.5V418.3H1612V435.5zM1612 435.5V411.2H1613V435.5zM1613 435.5V414.8H1614V435.5zM1614 435.5V412.7H1615V435.5zM1615 435.5V413.4H1616V435.5zM1616 435.5V414.4H1617V435.5zM1617 435.5V409.6H1618V435.5zM1618 435.5V414.4H1619V435.5zM1619 435.5V406.6H1620V435.5zM1620 435.5V408.7H1621V435.5zM1621 435.5V391.3H1622V435.5zM1622 435.5V384.4H1623V435.5zM1623 435.5V391.3H1624V435.5zM1632 435.5V423.0H1634V435.5zM1634 435.5V417.3H1635V435.5zM1635 435.5V426.7H1636V435.5zM1644 435.5V425.7H1645V435.5zM1645 435.5V423.6H1646V435.5zM1646 435.5V422.4H1647V435.5zM1647 435.5V425.6H1648V435.5zM1651 435.5V431.0H1653V435.5zM1660 435.5V428.9H1662V435.5zM1662 435.5V426.4H1663V435.5zM1663 435.5V425.2H1664V435.5zM1664 435.5V423.3H1665V435.5zM1665 435.5V425.1H1666V435.5zM1666 435.5V426.4H1667V435.5zM1667 435.5V427.7H1668V435.5zM1668 435.5V426.3H1669V435.5zM1669 435.5V424.9H1670V435.5zM1670 435.5V426.9H1671V435.5zM1671 435.5V427.9H1672V435.5zM1686 435.5V428.5H1688V435.5zM1691 435.5V424.0H1693V435.5zM1735 435.5V409.6H1736V435.5zM1736 435.5V391.8H1737V435.5zM1737 435.5V387.4H1738V435.5zM1738 435.5V410.9H1739V435.5zM1739 435.5V424.9H1740V435.5zM1767 435.5V431.0H1769V435.5zM1776 435.5V426.7H1777V435.5zM1777 435.5V416.7H1778V435.5zM1778 435.5V415.7H1779V435.5zM1779 435.5V427.9H1780V435.5zM1799 435.5V431.0H1801V435.5zM1814 435.5V415.9H1816V435.5zM1816 435.5V402.0H1817V435.5zM1817 435.5V406.5H1818V435.5zM1818 435.5V418.8H1819V435.5zM1828 435.5V426.4H1829V435.5zM1829 435.5V428.9H1830V435.5zM1830 435.5V424.8H1831V435.5zM1831 435.5V423.3H1832V435.5zM1832 435.5V424.7H1833V435.5zM1833 435.5V424.4H1835V435.5zM1835 435.5V420.2H1837V435.5zM1837 435.5V415.7H1838V435.5zM1838 435.5V425.1H1839V435.5zM1849 435.5V418.8H1850V435.5zM1850 435.5V421.8H1851V435.5zM1851 435.5V399.0H1852V435.5zM1852 435.5V418.5H1854V435.5zM1854 435.5V428.2H1855V435.5zM1855 435.5V424.9H1856V435.5zM1856 435.5V428.2H1857V435.5zM1857 435.5V412.0H1858V435.5zM1858 435.5V404.2H1859V435.5zM1859 435.5V412.0H1860V435.5zM1860 435.5V420.7H1861V435.5zM1865 435.5V426.4H1866V435.5zM1866 435.5V424.6H1867V435.5zM1867 435.5V422.4H1868V435.5zM1868 435.5V423.2H1869V435.5zM1869 435.5V426.4H1870V435.5zM1882 435.5V413.6H1883V435.5zM1883 435.5V400.5H1884V435.5zM1884 435.5V413.6H1885V435.5zM1885 435.5V384.4H1886V435.5zM1886 435.5V403.6H1887V435.5zM1887 435.5V426.4H1889V435.5zM1891 435.5V424.9H1892V435.5zM1892 435.5V426.3H1893V435.5zM1893 435.5V415.7H1894V435.5zM1894 435.5V419.5H1895V435.5zM1895 435.5V409.0H1896V435.5zM1896 435.5V415.7H1897V435.5zM1897 435.5V418.2H1898V435.5zM1898 435.5V412.7H1899V435.5zM1899 435.5V424.9H1900V435.5zM1918 435.5V428.9H1920V435.5zM1920 435.5V420.5H1922V435.5zM1922 435.5V412.7H1923V435.5zM1923 435.5V427.9H1924V435.5zM1924 435.5V428.7H1925V435.5zM1925 435.5V422.3H1926V435.5zM1926 435.5V418.8H1927V435.5zM1927 435.5V422.3H1928V435.5zM1928 435.5V402.0H1929V435.5zM1929 435.5V420.1H1930V435.5zM1944 435.5V427.3H1948V435.5z" fill="#3a8b47"/>
<path d="M536 384.4h1v2.2h-1zM829 384.4h4v2.2h-4zM1477 384.4h1v2.2h-1zM1492 384.4h1v2.2h-1zM1493 384.8h1v2.2h-1zM1587 385.0h1v2.2h-1zM1588 384.4h1v2.2h-1zM1589 385.0h1v2.2h-1zM1622 384.4h1v2.2h-1zM1885 384.4h1v2.2h-1z" fill="#a85ca9"/>
<path d="M460.5 498.2H1953.0v3H460.5zM1958.0 498.2H1962.0v3H1958.0z" fill="#a85ca9"/>
<path d="M466 501.2V495.4H468V501.2zM510 501.2V497.3H512V501.2zM515 501.2V495.4H517V501.2zM526 501.2V492.7H528V501.2zM528 501.2V488.7H529V501.2zM529 501.2V490.8H530V501.2zM530 501.2V496.4H531V501.2zM534 501.2V488.5H536V501.2zM536 501.2V475.0H537V501.2zM537 501.2V483.4H538V501.2zM538 501.2V482.7H539V501.2zM539 501.2V494.2H540V501.2zM545 501.2V493.2H546V501.2zM546 501.2V488.7H547V501.2zM547 501.2V494.2H548V501.2zM548 501.2V493.3H549V501.2zM549 501.2V494.2H550V501.2zM550 501.2V481.3H551V501.2zM551 501.2V480.2H552V501.2zM552 501.2V481.3H553V501.2zM553 501.2V482.7H554V501.2zM554 501.2V490.5H555V501.2zM583 501.2V483.5H584V501.2zM584 501.2V476.6H585V501.2zM585 501.2V483.5H586V501.2zM586 501.2V469.0H587V501.2zM587 501.2V488.7H588V501.2zM630 501.2V469.0H633V501.2zM686 501.2V492.8H688V501.2zM688 501.2V487.2H689V501.2zM689 501.2V493.8H690V501.2zM761 501.2V497.9H763V501.2zM784 501.2V496.8H785V501.2zM785 501.2V494.1H786V501.2zM786 501.2V493.3H787V501.2zM787 501.2V490.6H788V501.2zM788 501.2V487.2H789V501.2zM789 501.2V493.7H790V501.2zM790 501.2V493.3H791V501.2zM794 501.2V497.9H796V501.2zM800 501.2V496.4H801V501.2zM801 501.2V497.0H802V501.2zM802 501.2V494.8H803V501.2zM803 501.2V495.2H804V501.2zM804 501.2V495.3H805V501.2zM805 501.2V494.2H806V501.2zM806 501.2V495.3H807V501.2zM807 501.2V496.5H809V501.2zM809 501.2V496.4H810V501.2zM812 501.2V490.3H813V501.2zM813 501.2V491.2H814V501.2zM814 501.2V487.4H815V501.2zM815 501.2V485.1H816V501.2zM816 501.2V489.7H818V501.2zM818 501.2V493.2H820V501.2zM820 501.2V491.8H821V501.2zM821 501.2V494.1H822V501.2zM822 501.2V493.3H823V501.2zM823 501.2V493.8H824V501.2zM824 501.2V493.6H825V501.2zM825 501.2V491.6H826V501.2zM826 501.2V491.2H827V501.2zM827 501.2V490.2H828V501.2zM828 501.2V488.7H829V501.2zM829 501.2V450.7H833V501.2zM833 501.2V488.8H834V501.2zM834 501.2V488.7H835V501.2zM835 501.2V481.1H836V501.2zM836 501.2V485.7H837V501.2zM837 501.2V472.0H838V501.2zM838 501.2V476.1H840V501.2zM840 501.2V475.6H841V501.2zM841 501.2V470.5H842V501.2zM842 501.2V492.2H843V501.2zM843 501.2V491.8H844V501.2zM934 501.2V492.6H935V501.2zM935 501.2V487.2H936V501.2zM936 501.2V494.0H938V501.2zM941 501.2V494.8H942V501.2zM942 501.2V491.0H943V501.2zM943 501.2V490.3H944V501.2zM944 501.2V496.4H946V501.2zM949 501.2V494.8H950V501.2zM950 501.2V496.4H951V501.2zM951 501.2V494.5H952V501.2zM952 501.2V494.2H953V501.2zM953 501.2V494.5H954V501.2zM954 501.2V495.7H955V501.2zM955 501.2V496.4H956V501.2zM976 501.2V497.9H978V501.2zM979 501.2V497.9H981V501.2zM1037 501.2V496.4H1039V501.2zM1050 501.2V493.3H1051V501.2zM1051 501.2V494.6H1052V501.2zM1052 501.2V496.4H1053V501.2zM1056 501.2V488.7H1057V501.2zM1057 501.2V483.2H1058V501.2zM1058 501.2V480.5H1059V501.2zM1059 501.2V485.7H1060V501.2zM1060 501.2V491.1H1061V501.2zM1061 501.2V493.3H1062V501.2zM1072 501.2V488.7H1073V501.2zM1073 501.2V490.0H1074V501.2zM1074 501.2V496.4H1075V501.2zM1093 501.2V485.7H1094V501.2zM1094 501.2V490.1H1096V501.2zM1096 501.2V491.4H1097V501.2zM1097 501.2V485.1H1098V501.2zM1098 501.2V487.4H1099V501.2zM1099 501.2V496.4H1100V501.2zM1118 501.2V464.9H1119V501.2zM1119 501.2V463.8H1120V501.2zM1120 501.2V485.7H1121V501.2zM1121 501.2V494.8H1122V501.2zM1135 501.2V494.8H1136V501.2zM1136 501.2V495.1H1137V501.2zM1137 501.2V493.3H1138V501.2zM1138 501.2V491.1H1140V501.2zM1140 501.2V487.2H1141V501.2zM1141 501.2V494.9H1142V501.2zM1142 501.2V494.8H1143V501.2zM1152 501.2V485.7H1154V501.2zM1154 501.2V465.3H1155V501.2zM1155 501.2V488.4H1157V501.2zM1157 501.2V495.7H1159V501.2zM1159 501.2V494.8H1160V501.2zM1166 501.2V487.2H1167V501.2zM1167 501.2V488.1H1168V501.2zM1168 501.2V494.8H1169V501.2zM1183 501.2V478.3H1185V501.2zM1185 501.2V469.0H1186V501.2zM1186 501.2V477.9H1187V501.2zM1187 501.2V485.7H1188V501.2zM1192 501.2V485.7H1193V501.2zM1193 501.2V490.6H1194V501.2zM1194 501.2V491.8H1195V501.2zM1195 501.2V494.3H1196V501.2zM1196 501.2V496.7H1197V501.2zM1197 501.2V494.8H1198V501.2zM1198 501.2V496.7H1199V501.2zM1217 501.2V485.7H1218V501.2zM1218 501.2V478.1H1219V501.2zM1219 501.2V460.7H1220V501.2zM1220 501.2V475.0H1221V501.2zM1221 501.2V469.0H1222V501.2zM1222 501.2V475.0H1223V501.2zM1223 501.2V470.5H1224V501.2zM1224 501.2V486.6H1225V501.2zM1225 501.2V491.8H1226V501.2zM1228 501.2V480.5H1229V501.2zM1229 501.2V485.7H1230V501.2zM1230 501.2V494.8H1231V501.2zM1231 501.2V495.9H1232V501.2zM1232 501.2V492.0H1234V501.2zM1234 501.2V488.7H1235V501.2zM1235 501.2V494.8H1236V501.2zM1239 501.2V485.7H1240V501.2zM1240 501.2V490.3H1241V501.2zM1241 501.2V479.0H1242V501.2zM1242 501.2V487.0H1243V501.2zM1243 501.2V480.2H1244V501.2zM1244 501.2V489.8H1245V501.2zM1245 501.2V494.8H1246V501.2zM1259 501.2V495.4H1261V501.2zM1273 501.2V488.7H1275V501.2zM1292 501.2V475.3H1294V501.2zM1307 501.2V472.6H1308V501.2zM1308 501.2V453.7H1309V501.2zM1309 501.2V463.4H1310V501.2zM1310 501.2V482.4H1311V501.2zM1353 501.2V497.9H1355V501.2zM1362 501.2V487.2H1364V501.2zM1371 501.2V497.3H1373V501.2zM1387 501.2V494.2H1388V501.2zM1388 501.2V495.2H1390V501.2zM1390 501.2V494.9H1392V501.2zM1392 501.2V493.2H1394V501.2zM1394 501.2V492.4H1395V501.2zM1395 501.2V492.0H1396V501.2zM1396 501.2V491.2H1397V501.2zM1397 501.2V494.1H1398V501.2zM1398 501.2V494.2H1399V501.2zM1408 501.2V484.2H1409V501.2zM1409 501.2V487.8H1410V501.2zM1410 501.2V488.7H1411V501.2zM1411 501.2V494.7H1413V501.2zM1413 501.2V492.1H1414V501.2zM1414 501.2V488.7H1415V501.2zM1419 501.2V486.7H1421V501.2zM1421 501.2V477.2H1422V501.2zM1422 501.2V487.1H1423V501.2zM1423 501.2V490.9H1424V501.2zM1424 501.2V484.3H1425V501.2zM1425 501.2V482.7H1426V501.2zM1426 501.2V482.2H1427V501.2zM1427 501.2V480.2H1428V501.2zM1428 501.2V477.2H1429V501.2zM1429 501.2V486.2H1430V501.2zM1430 501.2V482.7H1431V501.2zM1431 501.2V493.3H1432V501.2zM1432 501.2V491.8H1433V501.2zM1433 501.2V463.8H1435V501.2zM1435 501.2V488.7H1436V501.2zM1436 501.2V490.2H1438V501.2zM1438 501.2V489.0H1439V501.2zM1439 501.2V477.2H1440V501.2zM1440 501.2V488.6H1442V501.2zM1445 501.2V482.5H1447V501.2zM1447 501.2V475.3H1448V501.2zM1448 501.2V484.2H1449V501.2zM1449 501.2V482.7H1450V501.2zM1450 501.2V487.8H1451V501.2zM1451 501.2V488.7H1452V501.2zM1453 501.2V450.7H1457V501.2zM1474 501.2V473.5H1475V501.2zM1475 501.2V460.0H1476V501.2zM1476 501.2V450.7H1477V501.2zM1477 501.2V465.3H1479V501.2zM1489 501.2V482.3H1491V501.2zM1491 501.2V467.4H1492V501.2zM1492 501.2V473.3H1493V501.2zM1493 501.2V450.7H1494V501.2zM1494 501.2V464.7H1495V501.2zM1495 501.2V461.3H1496V501.2zM1496 501.2V481.1H1497V501.2zM1497 501.2V491.8H1498V501.2zM1500 501.2V477.0H1501V501.2zM1501 501.2V469.0H1502V501.2zM1502 501.2V481.8H1504V501.2zM1517 501.2V493.3H1519V501.2zM1535 501.2V482.7H1536V501.2zM1536 501.2V465.4H1537V501.2zM1537 501.2V452.2H1538V501.2zM1538 501.2V481.9H1539V501.2zM1539 501.2V473.5H1540V501.2zM1540 501.2V494.8H1541V501.2zM1542 501.2V489.7H1544V501.2zM1573 501.2V493.3H1575V501.2zM1577 501.2V467.4H1578V501.2zM1578 501.2V471.0H1579V501.2zM1579 501.2V450.7H1580V501.2zM1580 501.2V462.9H1581V501.2zM1581 501.2V475.8H1583V501.2zM1583 501.2V479.6H1584V501.2zM1584 501.2V483.0H1585V501.2zM1585 501.2V486.5H1586V501.2zM1586 501.2V473.5H1587V501.2zM1587 501.2V472.4H1588V501.2zM1588 501.2V465.8H1590V501.2zM1590 501.2V463.8H1591V501.2zM1591 501.2V469.6H1592V501.2zM1592 501.2V470.5H1593V501.2zM1593 501.2V472.0H1594V501.2zM1594 501.2V481.9H1596V501.2zM1596 501.2V490.0H1597V501.2zM1597 501.2V488.7H1598V501.2zM1598 501.2V490.6H1599V501.2zM1599 501.2V492.9H1600V501.2zM1600 501.2V491.8H1601V501.2zM1606 501.2V488.7H1607V501.2zM1607 501.2V491.8H1608V501.2zM1608 501.2V485.1H1609V501.2zM1609 501.2V492.5H1610V501.2zM1610 501.2V490.3H1611V501.2zM1611 501.2V491.4H1612V501.2zM1612 501.2V487.2H1613V501.2zM1613 501.2V489.7H1614V501.2zM1614 501.2V488.7H1615V501.2zM1615 501.2V491.5H1616V501.2zM1616 501.2V490.3H1617V501.2zM1617 501.2V482.7H1618V501.2zM1618 501.2V485.9H1619V501.2zM1619 501.2V483.4H1620V501.2zM1620 501.2V470.5H1621V501.2zM1621 501.2V453.7H1622V501.2zM1622 501.2V457.1H1623V501.2zM1623 501.2V485.7H1624V501.2zM1633 501.2V485.7H1634V501.2zM1634 501.2V493.0H1636V501.2zM1636 501.2V495.4H1637V501.2zM1637 501.2V496.4H1638V501.2zM1644 501.2V491.2H1646V501.2zM1646 501.2V488.7H1647V501.2zM1647 501.2V493.3H1648V501.2zM1648 501.2V494.2H1649V501.2zM1649 501.2V494.0H1650V501.2zM1650 501.2V491.8H1651V501.2zM1651 501.2V492.4H1652V501.2zM1652 501.2V488.7H1653V501.2zM1653 501.2V494.7H1654V501.2zM1664 501.2V497.9H1666V501.2zM1679 501.2V497.9H1681V501.2zM1691 501.2V495.4H1693V501.2zM1696 501.2V497.9H1698V501.2zM1735 501.2V450.7H1740V501.2zM1742 501.2V497.9H1744V501.2zM1763 501.2V497.9H1765V501.2zM1777 501.2V493.3H1779V501.2zM1799 501.2V496.4H1801V501.2zM1815 501.2V476.6H1817V501.2zM1829 501.2V490.3H1830V501.2zM1830 501.2V493.9H1832V501.2zM1835 501.2V492.4H1837V501.2zM1849 501.2V482.7H1851V501.2zM1851 501.2V460.7H1852V501.2zM1852 501.2V478.1H1853V501.2zM1853 501.2V488.7H1854V501.2zM1854 501.2V490.5H1855V501.2zM1855 501.2V480.9H1857V501.2zM1857 501.2V473.5H1858V501.2zM1858 501.2V472.0H1859V501.2zM1859 501.2V484.9H1860V501.2zM1860 501.2V491.8H1861V501.2zM1864 501.2V487.2H1865V501.2zM1865 501.2V481.8H1866V501.2zM1866 501.2V475.3H1867V501.2zM1867 501.2V489.5H1868V501.2zM1868 501.2V485.7H1869V501.2zM1869 501.2V489.5H1870V501.2zM1870 501.2V491.8H1871V501.2zM1871 501.2V493.1H1872V501.2zM1872 501.2V490.3H1873V501.2zM1882 501.2V466.4H1884V501.2zM1884 501.2V450.7H1885V501.2zM1885 501.2V464.7H1887V501.2zM1890 501.2V481.1H1891V501.2zM1891 501.2V481.4H1892V501.2zM1892 501.2V473.5H1893V501.2zM1893 501.2V481.0H1894V501.2zM1894 501.2V472.0H1895V501.2zM1895 501.2V478.3H1896V501.2zM1896 501.2V480.6H1898V501.2zM1898 501.2V479.0H1899V501.2zM1899 501.2V488.7H1900V501.2zM1927 501.2V482.0H1929V501.2zM1933 501.2V498.5H1935V501.2zM1945 501.2V494.8H1947V501.2z" fill="#7a41a1"/>
<path d="M829 450.7h4v2.2h-4zM1453 450.7h4v2.2h-4zM1476 450.7h1v2.2h-1zM1493 450.7h1v2.2h-1zM1579 450.7h1v2.2h-1zM1735 450.7h5v2.2h-5zM1884 450.7h1v2.2h-1z" fill="#a85ca9"/>
<path d="M460.5 564.4H1947.5v3H460.5zM1954.0 564.4H1962.0v3H1954.0z" fill="#a85ca9"/>
<path d="M466 567.4V564.4H468V567.4zM484 567.4V559.7H486V567.4zM486 567.4V555.9H487V567.4zM487 567.4V560.4H488V567.4zM492 567.4V559.5H494V567.4zM630 567.4V543.1H631V567.4zM631 567.4V545.2H633V567.4zM685 567.4V533.0H686V567.4zM686 567.4V533.1H687V567.4zM687 567.4V516.9H688V567.4zM688 567.4V541.5H689V567.4zM689 567.4V533.0H690V567.4zM690 567.4V541.5H691V567.4zM691 567.4V554.0H693V567.4zM693 567.4V551.3H694V567.4zM694 567.4V558.0H695V567.4zM695 567.4V554.3H696V567.4zM696 567.4V558.0H697V567.4zM697 567.4V561.6H699V567.4zM705 567.4V558.3H706V567.4zM706 567.4V559.0H707V567.4zM707 567.4V563.5H708V567.4zM717 567.4V543.5H719V567.4zM719 567.4V533.0H720V567.4zM720 567.4V549.1H721V567.4zM721 567.4V546.7H722V567.4zM722 567.4V561.2H724V567.4zM724 567.4V563.5H727V567.4zM753 567.4V552.8H755V567.4zM760 567.4V559.0H761V567.4zM761 567.4V558.3H762V567.4zM762 567.4V559.0H763V567.4zM771 567.4V544.6H772V567.4zM772 567.4V546.8H773V567.4zM773 567.4V549.8H774V567.4zM829 567.4V531.7H830V567.4zM830 567.4V516.9H831V567.4zM831 567.4V531.7H832V567.4zM832 567.4V516.9H834V567.4zM836 567.4V558.9H837V567.4zM837 567.4V560.2H839V567.4zM899 567.4V555.9H901V567.4zM911 567.4V559.5H912V567.4zM912 567.4V561.9H913V567.4zM922 567.4V565.0H924V567.4zM952 567.4V558.3H954V567.4zM980 567.4V556.8H982V567.4zM1036 567.4V553.6H1038V567.4zM1038 567.4V541.2H1039V567.4zM1039 567.4V555.9H1040V567.4zM1093 567.4V556.8H1095V567.4zM1117 567.4V528.5H1118V567.4zM1118 567.4V517.0H1119V567.4zM1119 567.4V516.9H1120V567.4zM1120 567.4V549.8H1121V567.4zM1121 567.4V555.2H1122V567.4zM1152 567.4V525.4H1153V567.4zM1153 567.4V516.9H1154V567.4zM1154 567.4V553.0H1155V567.4zM1155 567.4V545.2H1156V567.4zM1156 567.4V553.0H1157V567.4zM1157 567.4V560.1H1159V567.4zM1159 567.4V560.3H1161V567.4zM1161 567.4V558.3H1162V567.4zM1162 567.4V563.3H1164V567.4zM1238 567.4V559.9H1240V567.4zM1240 567.4V557.7H1241V567.4zM1241 567.4V554.3H1242V567.4zM1242 567.4V549.8H1243V567.4zM1243 567.4V556.9H1244V567.4zM1244 567.4V554.3H1245V567.4zM1290 567.4V547.3H1291V567.4zM1291 567.4V531.5H1292V567.4zM1292 567.4V547.3H1293V567.4zM1293 567.4V516.9H1294V567.4zM1294 567.4V532.0H1295V567.4zM1302 567.4V558.6H1303V567.4zM1303 567.4V552.9H1304V567.4zM1304 567.4V540.6H1305V567.4zM1305 567.4V544.5H1306V567.4zM1306 567.4V516.9H1311V567.4zM1311 567.4V532.9H1312V567.4zM1312 567.4V516.9H1317V567.4zM1317 567.4V555.9H1318V567.4zM1329 567.4V557.4H1330V567.4zM1330 567.4V559.2H1331V567.4zM1331 567.4V554.9H1332V567.4zM1332 567.4V559.5H1333V567.4zM1333 567.4V558.9H1334V567.4zM1334 567.4V559.4H1335V567.4zM1335 567.4V553.4H1336V567.4zM1336 567.4V557.7H1337V567.4zM1337 567.4V563.5H1338V567.4zM1372 567.4V556.2H1373V567.4zM1373 567.4V531.1H1374V567.4zM1374 567.4V528.5H1375V567.4zM1375 567.4V516.9H1376V567.4zM1376 567.4V539.3H1377V567.4zM1377 567.4V537.6H1378V567.4zM1378 567.4V553.6H1379V567.4zM1379 567.4V555.9H1380V567.4zM1387 567.4V560.3H1389V567.4zM1389 567.4V558.3H1390V567.4zM1390 567.4V563.5H1391V567.4zM1426 567.4V560.4H1427V567.4zM1427 567.4V554.2H1428V567.4zM1428 567.4V540.6H1429V567.4zM1429 567.4V549.2H1430V567.4zM1430 567.4V548.2H1431V567.4zM1431 567.4V525.4H1432V567.4zM1432 567.4V534.0H1433V567.4zM1433 567.4V516.9H1434V567.4zM1434 567.4V554.8H1435V567.4zM1451 567.4V542.4H1452V567.4zM1452 567.4V516.9H1457V567.4zM1457 567.4V527.7H1458V567.4zM1458 567.4V555.4H1459V567.4zM1459 567.4V558.9H1460V567.4zM1473 567.4V554.4H1475V567.4zM1475 567.4V516.9H1478V567.4zM1478 567.4V528.5H1479V567.4zM1479 567.4V563.5H1480V567.4zM1500 567.4V549.8H1501V567.4zM1501 567.4V553.9H1503V567.4zM1526 567.4V558.3H1528V567.4zM1535 567.4V557.4H1537V567.4zM1537 567.4V530.0H1538V567.4zM1538 567.4V545.2H1539V567.4zM1539 567.4V563.5H1540V567.4zM1571 567.4V552.5H1573V567.4zM1573 567.4V551.3H1574V567.4zM1574 567.4V561.2H1575V567.4zM1593 567.4V563.3H1595V567.4zM1595 567.4V558.3H1596V567.4zM1596 567.4V561.2H1597V567.4zM1619 567.4V559.5H1620V567.4zM1620 567.4V561.8H1622V567.4zM1669 567.4V559.5H1670V567.4zM1670 567.4V559.9H1671V567.4zM1671 567.4V561.9H1672V567.4zM1701 567.4V552.2H1702V567.4zM1702 567.4V546.1H1703V567.4zM1703 567.4V551.6H1704V567.4zM1704 567.4V555.9H1705V567.4zM1735 567.4V516.9H1740V567.4zM1799 567.4V558.3H1800V567.4zM1800 567.4V560.2H1801V567.4zM1836 567.4V563.5H1838V567.4zM1851 567.4V549.8H1853V567.4zM1882 567.4V562.6H1884V567.4zM1884 567.4V552.8H1885V567.4zM1885 567.4V563.5H1886V567.4zM1902 567.4V562.0H1903V567.4zM1903 567.4V558.3H1904V567.4zM1904 567.4V563.5H1905V567.4zM1927 567.4V561.3H1929V567.4z" fill="#c4692a"/>
<path d="M687 516.9h1v2.2h-1zM830 516.9h1v2.2h-1zM832 516.9h2v2.2h-2zM1118 517.0h1v2.2h-1zM1119 516.9h1v2.2h-1zM1153 516.9h1v2.2h-1zM1293 516.9h1v2.2h-1zM1306 516.9h5v2.2h-5zM1312 516.9h5v2.2h-5zM1375 516.9h1v2.2h-1zM1433 516.9h1v2.2h-1zM1452 516.9h5v2.2h-5zM1475 516.9h3v2.2h-3zM1735 516.9h5v2.2h-5z" fill="#a85ca9"/>
<path d="M460.5 630.8H1947.5v3H460.5zM1956.0 630.8H1961.0v3H1956.0z" fill="#a85ca9"/>
<path d="M630 633.8V601.6H631V633.8zM631 633.8V599.4H632V633.8zM632 633.8V604.7H633V633.8zM633 633.8V606.1H634V633.8zM634 633.8V624.3H635V633.8zM685 633.8V616.2H686V633.8zM686 633.8V583.7H687V633.8zM687 633.8V583.3H688V633.8zM688 633.8V583.7H689V633.8zM689 633.8V583.3H690V633.8zM690 633.8V624.4H691V633.8zM696 633.8V627.4H698V633.8zM719 633.8V614.3H720V633.8zM720 633.8V610.7H721V633.8zM721 633.8V612.2H722V633.8zM771 633.8V625.9H772V633.8zM772 633.8V627.2H773V633.8zM773 633.8V629.0H774V633.8zM830 633.8V583.3H835V633.8zM922 633.8V631.4H924V633.8zM980 633.8V631.4H982V633.8zM1038 633.8V622.9H1039V633.8zM1039 633.8V625.8H1040V633.8zM1117 633.8V600.0H1118V633.8zM1118 633.8V600.9H1119V633.8zM1119 633.8V583.3H1122V633.8zM1122 633.8V629.0H1123V633.8zM1152 633.8V583.3H1157V633.8zM1157 633.8V587.5H1158V633.8zM1158 633.8V609.2H1159V633.8zM1159 633.8V621.6H1160V633.8zM1238 633.8V625.9H1239V633.8zM1239 633.8V626.8H1240V633.8zM1240 633.8V624.4H1241V633.8zM1241 633.8V609.1H1242V633.8zM1242 633.8V601.6H1243V633.8zM1243 633.8V610.7H1244V633.8zM1244 633.8V607.6H1245V633.8zM1245 633.8V616.8H1246V633.8zM1290 633.8V601.6H1291V633.8zM1291 633.8V602.1H1292V633.8zM1292 633.8V583.3H1296V633.8zM1296 633.8V607.6H1297V633.8zM1303 633.8V627.4H1304V633.8zM1304 633.8V628.4H1305V633.8zM1305 633.8V607.8H1307V633.8zM1307 633.8V583.3H1317V633.8zM1317 633.8V611.3H1318V633.8zM1318 633.8V600.0H1319V633.8zM1335 633.8V629.6H1337V633.8zM1372 633.8V610.7H1373V633.8zM1373 633.8V614.1H1374V633.8zM1374 633.8V583.3H1379V633.8zM1379 633.8V600.4H1380V633.8zM1426 633.8V620.5H1427V633.8zM1427 633.8V583.3H1436V633.8zM1452 633.8V583.3H1458V633.8zM1458 633.8V596.6H1459V633.8zM1459 633.8V609.2H1460V633.8zM1475 633.8V583.3H1480V633.8zM1480 633.8V595.1H1481V633.8zM1536 633.8V587.9H1540V633.8zM1540 633.8V604.6H1541V633.8zM1574 633.8V627.4H1576V633.8zM1620 633.8V625.8H1621V633.8zM1621 633.8V624.4H1622V633.8zM1702 633.8V626.5H1703V633.8zM1703 633.8V625.9H1704V633.8zM1735 633.8V583.3H1741V633.8zM1927 633.8V627.4H1929V633.8z" fill="#c4692a"/>
<path d="M687 583.3h1v2.2h-1zM689 583.3h1v2.2h-1zM830 583.3h5v2.2h-5zM1119 583.3h3v2.2h-3zM1152 583.3h5v2.2h-5zM1292 583.3h4v2.2h-4zM1307 583.3h10v2.2h-10zM1374 583.3h5v2.2h-5zM1427 583.3h9v2.2h-9zM1452 583.3h6v2.2h-6zM1475 583.3h5v2.2h-5zM1735 583.3h6v2.2h-6z" fill="#a85ca9"/>
<path d="M460.5 696.9H1947.5v3H460.5zM1958.0 696.9H1962.0v3H1958.0z" fill="#a85ca9"/>
<path d="M630 699.9V686.0H631V699.9zM631 699.9V684.4H632V699.9zM632 699.9V685.1H633V699.9zM633 699.9V686.2H634V699.9zM687 699.9V692.9H688V699.9zM688 699.9V684.3H689V699.9zM689 699.9V682.3H690V699.9zM690 699.9V692.9H691V699.9zM830 699.9V649.4H835V699.9zM1037 699.9V676.2H1041V699.9zM1118 699.9V673.8H1119V699.9zM1119 699.9V672.5H1120V699.9zM1120 699.9V673.8H1121V699.9zM1121 699.9V672.5H1122V699.9zM1152 699.9V677.7H1153V699.9zM1153 699.9V666.1H1154V699.9zM1154 699.9V665.5H1155V699.9zM1155 699.9V666.1H1156V699.9zM1292 699.9V680.8H1293V699.9zM1293 699.9V676.2H1294V699.9zM1294 699.9V683.6H1296V699.9zM1307 699.9V674.7H1308V699.9zM1308 699.9V649.4H1311V699.9zM1311 699.9V683.4H1312V699.9zM1312 699.9V679.2H1313V699.9zM1377 699.9V664.6H1381V699.9zM1381 699.9V685.3H1382V699.9zM1427 699.9V692.9H1428V699.9zM1428 699.9V691.4H1429V699.9zM1429 699.9V682.3H1430V699.9zM1430 699.9V680.7H1431V699.9zM1431 699.9V674.7H1432V699.9zM1432 699.9V680.7H1433V699.9zM1433 699.9V684.8H1434V699.9zM1434 699.9V672.5H1435V699.9zM1435 699.9V683.3H1436V699.9zM1452 699.9V666.3H1453V699.9zM1453 699.9V649.4H1459V699.9zM1459 699.9V692.9H1460V699.9zM1475 699.9V649.4H1480V699.9zM1480 699.9V685.3H1481V699.9zM1500 699.9V691.9H1502V699.9zM1502 699.9V683.8H1503V699.9zM1503 699.9V685.7H1504V699.9zM1504 699.9V691.4H1505V699.9zM1536 699.9V664.0H1537V699.9zM1537 699.9V666.1H1539V699.9zM1539 699.9V681.3H1540V699.9zM1540 699.9V689.9H1541V699.9zM1619 699.9V682.6H1621V699.9zM1621 699.9V679.2H1622V699.9zM1622 699.9V682.4H1623V699.9zM1735 699.9V686.8H1736V699.9zM1736 699.9V663.5H1737V699.9zM1737 699.9V655.5H1738V699.9zM1738 699.9V661.0H1739V699.9zM1739 699.9V683.8H1740V699.9zM1740 699.9V692.9H1741V699.9zM1828 699.9V687.4H1831V699.9zM1882 699.9V667.0H1883V699.9zM1883 699.9V668.1H1884V699.9zM1884 699.9V649.4H1887V699.9zM1887 699.9V662.5H1888V699.9zM1927 699.9V685.3H1928V699.9zM1928 699.9V687.1H1930V699.9zM1930 699.9V694.4H1931V699.9z" fill="#d2479b"/>
<path d="M830 649.4h5v2.2h-5zM1308 649.4h3v2.2h-3zM1453 649.4h6v2.2h-6zM1475 649.4h5v2.2h-5zM1884 649.4h3v2.2h-3z" fill="#a85ca9"/>
<path d="M460.5 763.2H1947.5v3H460.5zM1951.0 763.2H1954.0v3H1951.0zM1959.0 763.2H1962.0v3H1959.0z" fill="#a85ca9"/>
<path d="M630 766.2V753.7H635V766.2zM686 766.2V758.7H688V766.2zM688 766.2V756.8H689V766.2zM689 766.2V754.7H690V766.2zM828 766.2V759.5H829V766.2zM829 766.2V753.7H830V766.2zM830 766.2V740.3H831V766.2zM831 766.2V747.4H832V766.2zM832 766.2V744.6H833V766.2zM833 766.2V749.8H835V766.2zM835 766.2V762.9H836V766.2zM839 766.2V762.3H841V766.2zM922 766.2V761.7H926V766.2zM1036 766.2V762.0H1040V766.2zM1074 766.2V762.0H1076V766.2zM1119 766.2V760.7H1121V766.2zM1121 766.2V758.6H1122V766.2zM1152 766.2V757.2H1154V766.2zM1154 766.2V753.7H1155V766.2zM1155 766.2V755.2H1156V766.2zM1156 766.2V759.8H1157V766.2zM1241 766.2V760.8H1243V766.2zM1243 766.2V759.2H1245V766.2zM1245 766.2V758.6H1246V766.2zM1292 766.2V752.0H1293V766.2zM1293 766.2V748.6H1294V766.2zM1294 766.2V754.0H1296V766.2zM1307 766.2V753.7H1308V766.2zM1308 766.2V730.3H1309V766.2zM1309 766.2V737.4H1310V766.2zM1310 766.2V730.3H1311V766.2zM1311 766.2V744.7H1312V766.2zM1329 766.2V762.3H1331V766.2zM1377 766.2V755.3H1380V766.2zM1427 766.2V756.8H1428V766.2zM1428 766.2V758.3H1429V766.2zM1429 766.2V753.1H1430V766.2zM1430 766.2V756.3H1431V766.2zM1431 766.2V755.3H1432V766.2zM1432 766.2V757.8H1433V766.2zM1433 766.2V753.1H1434V766.2zM1434 766.2V750.7H1435V766.2zM1435 766.2V761.4H1436V766.2zM1437 766.2V762.3H1439V766.2zM1452 766.2V753.7H1453V766.2zM1453 766.2V738.4H1454V766.2zM1454 766.2V727.9H1455V766.2zM1455 766.2V720.3H1456V766.2zM1456 766.2V740.9H1458V766.2zM1458 766.2V759.8H1459V766.2zM1475 766.2V741.6H1476V766.2zM1476 766.2V730.3H1477V766.2zM1477 766.2V738.4H1478V766.2zM1478 766.2V737.0H1479V766.2zM1479 766.2V756.8H1480V766.2zM1500 766.2V755.3H1501V766.2zM1501 766.2V753.1H1502V766.2zM1502 766.2V754.9H1504V766.2zM1504 766.2V761.5H1505V766.2zM1505 766.2V761.4H1506V766.2zM1506 766.2V763.1H1507V766.2zM1507 766.2V762.9H1508V766.2zM1536 766.2V751.4H1537V766.2zM1537 766.2V750.7H1538V766.2zM1538 766.2V751.4H1539V766.2zM1539 766.2V755.3H1540V766.2zM1540 766.2V761.4H1541V766.2zM1613 766.2V762.3H1614V766.2zM1614 766.2V762.8H1615V766.2zM1615 766.2V761.4H1616V766.2zM1616 766.2V761.9H1617V766.2zM1617 766.2V761.7H1618V766.2zM1618 766.2V758.1H1619V766.2zM1619 766.2V752.2H1620V766.2zM1620 766.2V754.7H1622V766.2zM1622 766.2V760.4H1623V766.2zM1623 766.2V759.8H1624V766.2zM1644 766.2V763.5H1646V766.2zM1735 766.2V753.7H1736V766.2zM1736 766.2V740.4H1737V766.2zM1737 766.2V734.0H1738V766.2zM1738 766.2V736.0H1739V766.2zM1739 766.2V734.0H1740V766.2zM1740 766.2V753.7H1741V766.2zM1828 766.2V757.9H1829V766.2zM1829 766.2V756.8H1831V766.2zM1851 766.2V761.7H1853V766.2zM1868 766.2V762.3H1870V766.2zM1882 766.2V749.2H1883V766.2zM1883 766.2V747.5H1884V766.2zM1884 766.2V732.4H1885V766.2zM1885 766.2V739.5H1886V766.2zM1886 766.2V732.4H1887V766.2zM1887 766.2V750.7H1888V766.2zM1927 766.2V761.7H1930V766.2z" fill="#d2479b"/>
<path d="M460.5 829.4H1952.0v3H460.5zM1957.0 829.4H1960.0v3H1957.0z" fill="#a85ca9"/>
<path d="M463 832.4V820.9H464V832.4zM464 832.4V809.3H465V832.4zM465 832.4V781.9H468V832.4zM468 832.4V791.9H469V832.4zM469 832.4V828.5H470V832.4zM515 832.4V824.5H519V832.4zM535 832.4V823.4H537V832.4zM537 832.4V821.8H538V832.4zM538 832.4V828.5H539V832.4zM552 832.4V829.4H554V832.4zM584 832.4V822.4H585V832.4zM585 832.4V817.8H586V832.4zM586 832.4V819.1H587V832.4zM587 832.4V820.9H588V832.4zM630 832.4V817.8H631V832.4zM631 832.4V821.0H632V832.4zM632 832.4V820.9H633V832.4zM633 832.4V821.0H634V832.4zM686 832.4V821.5H688V832.4zM688 832.4V814.8H690V832.4zM761 832.4V826.3H763V832.4zM829 832.4V807.0H830V832.4zM830 832.4V781.9H835V832.4zM835 832.4V826.9H836V832.4zM836 832.4V828.5H838V832.4zM921 832.4V816.1H923V832.4zM923 832.4V809.6H924V832.4zM924 832.4V813.2H925V832.4zM925 832.4V814.7H926V832.4zM926 832.4V826.9H927V832.4zM944 832.4V820.7H945V832.4zM945 832.4V814.8H946V832.4zM946 832.4V820.8H948V832.4zM1038 832.4V826.3H1040V832.4zM1057 832.4V806.2H1059V832.4zM1059 832.4V812.3H1060V832.4zM1060 832.4V828.5H1062V832.4zM1072 832.4V798.6H1074V832.4zM1074 832.4V789.8H1075V832.4zM1075 832.4V814.8H1076V832.4zM1118 832.4V802.6H1119V832.4zM1119 832.4V788.3H1120V832.4zM1120 832.4V791.9H1121V832.4zM1121 832.4V828.5H1122V832.4zM1152 832.4V808.4H1154V832.4zM1154 832.4V788.9H1155V832.4zM1155 832.4V785.2H1156V832.4zM1156 832.4V808.7H1157V832.4zM1157 832.4V813.0H1158V832.4zM1158 832.4V817.8H1159V832.4zM1159 832.4V822.8H1160V832.4zM1160 832.4V820.9H1161V832.4zM1184 832.4V811.2H1185V832.4zM1185 832.4V792.8H1186V832.4zM1186 832.4V807.4H1188V832.4zM1240 832.4V822.9H1242V832.4zM1242 832.4V819.9H1243V832.4zM1243 832.4V826.9H1244V832.4zM1272 832.4V811.7H1273V832.4zM1273 832.4V781.9H1277V832.4zM1277 832.4V811.7H1278V832.4zM1291 832.4V781.9H1295V832.4zM1307 832.4V788.9H1308V832.4zM1308 832.4V781.9H1311V832.4zM1311 832.4V804.2H1312V832.4zM1312 832.4V798.0H1313V832.4zM1371 832.4V829.4H1373V832.4zM1413 832.4V817.8H1416V832.4zM1426 832.4V821.0H1428V832.4zM1428 832.4V803.9H1429V832.4zM1429 832.4V795.0H1430V832.4zM1430 832.4V796.5H1431V832.4zM1431 832.4V788.3H1432V832.4zM1432 832.4V796.5H1433V832.4zM1433 832.4V798.0H1434V832.4zM1434 832.4V804.5H1435V832.4zM1435 832.4V801.1H1436V832.4zM1447 832.4V819.9H1448V832.4zM1448 832.4V821.2H1449V832.4zM1449 832.4V823.9H1450V832.4zM1452 832.4V786.1H1453V832.4zM1453 832.4V781.9H1456V832.4zM1456 832.4V788.6H1457V832.4zM1457 832.4V781.9H1458V832.4zM1458 832.4V788.6H1459V832.4zM1475 832.4V781.9H1479V832.4zM1479 832.4V805.2H1481V832.4zM1495 832.4V823.3H1496V832.4zM1496 832.4V826.6H1497V832.4zM1535 832.4V781.9H1539V832.4zM1539 832.4V784.2H1540V832.4zM1540 832.4V801.1H1541V832.4zM1590 832.4V829.4H1592V832.4zM1598 832.4V820.7H1600V832.4zM1600 832.4V811.7H1601V832.4zM1601 832.4V817.8H1602V832.4zM1619 832.4V781.9H1624V832.4zM1624 832.4V825.4H1625V832.4zM1645 832.4V829.4H1647V832.4zM1735 832.4V781.9H1740V832.4zM1740 832.4V788.0H1741V832.4zM1777 832.4V817.7H1779V832.4zM1779 832.4V816.3H1780V832.4zM1780 832.4V825.4H1781V832.4zM1815 832.4V790.6H1816V832.4zM1816 832.4V783.7H1819V832.4zM1827 832.4V807.0H1828V832.4zM1828 832.4V801.1H1832V832.4zM1851 832.4V809.4H1852V832.4zM1852 832.4V800.5H1853V832.4zM1853 832.4V817.9H1854V832.4zM1866 832.4V823.2H1868V832.4zM1868 832.4V814.8H1869V832.4zM1869 832.4V811.7H1870V832.4zM1870 832.4V822.9H1871V832.4zM1882 832.4V781.9H1888V832.4zM1924 832.4V828.5H1925V832.4zM1925 832.4V828.0H1926V832.4zM1926 832.4V826.9H1927V832.4zM1927 832.4V822.2H1928V832.4zM1928 832.4V817.8H1929V832.4zM1929 832.4V828.1H1930V832.4z" fill="#8a4a2b"/>
<path d="M465 781.9h3v2.2h-3zM830 781.9h5v2.2h-5zM1273 781.9h4v2.2h-4zM1291 781.9h4v2.2h-4zM1308 781.9h3v2.2h-3zM1453 781.9h3v2.2h-3zM1457 781.9h1v2.2h-1zM1475 781.9h4v2.2h-4zM1535 781.9h4v2.2h-4zM1619 781.9h5v2.2h-5zM1735 781.9h5v2.2h-5zM1882 781.9h6v2.2h-6z" fill="#a85ca9"/>
<rect x="662" y="365.9" width="2" height="3.4" fill="#fff"/>
<rect x="750" y="365.9" width="2" height="3.4" fill="#fff"/>
<rect x="644" y="432.3" width="2" height="3.4" fill="#fff"/>
<rect x="656" y="432.3" width="2" height="3.4" fill="#fff"/>
<rect x="643" y="498.0" width="2" height="3.4" fill="#fff"/>
<rect x="618" y="564.2" width="2" height="3.4" fill="#fff"/>
<rect x="646" y="564.2" width="2" height="3.4" fill="#fff"/>
<rect x="663" y="564.2" width="2" height="3.4" fill="#fff"/>
<rect x="636" y="630.6" width="2" height="3.4" fill="#fff"/>
<rect x="641" y="630.6" width="3" height="3.4" fill="#fff"/>
<rect x="660" y="630.6" width="3" height="3.4" fill="#fff"/>
<rect x="883" y="630.6" width="3" height="3.4" fill="#fff"/>
<rect x="1909" y="630.6" width="3" height="3.4" fill="#fff"/>
<rect x="1509" y="763.0" width="2" height="3.4" fill="#fff"/>
<rect x="1913" y="829.2" width="2" height="3.4" fill="#fff"/>
<path d="M615.7 854.3H622.7v2H615.7zM615.7 851.0h1.8v8.6h-1.8zM620.5 851.0h2.1v8.6h-2.1zM631.8 854.3H690.3v2H631.8zM630.7 847.5h2.2v15.6h-2.2zM689.2 847.5h2.2v15.6h-2.2zM639.4 847.5h1.8v15.6h-1.8zM647.0 847.5h4.6v15.6h-4.6zM653.1 847.5h1.8v15.6h-1.8zM656.2 847.5h2.4v15.6h-2.4zM659.8 847.5h4.0v15.6h-4.0zM668.3 847.5h4.6v15.6h-4.6zM674.4 847.5h1.8v15.6h-1.8zM678.1 847.5h1.8v15.6h-1.8zM682.0 847.5h1.8v15.6h-1.8zM720.1 854.3H793.2v2H720.1zM719.0 847.5h2.2v15.6h-2.2zM755.7 847.5h1.8v15.6h-1.8zM758.8 847.5h1.8v15.6h-1.8zM762.1 847.5h1.8v15.6h-1.8zM764.8 847.5h1.8v15.6h-1.8zM767.9 847.5h1.8v15.6h-1.8zM770.6 847.5h1.8v15.6h-1.8zM774.6 847.5h1.8v15.6h-1.8zM784.0 847.5h5.5v15.6h-5.5zM791.6 847.5h1.8v15.6h-1.8zM742.6 851.0h1.5v8.6h-1.5zM804.7 854.3H841.9v2H804.7zM803.6 847.5h2.2v15.6h-2.2zM821.5 847.5h1.8v15.6h-1.8zM825.1 847.5h3.0v15.6h-3.0zM830.6 847.5h10.7v15.6h-10.7zM869.3 854.3H924.1v2H869.3zM922.4 847.5h2.2v15.6h-2.2zM878.4 847.5h6.1v15.6h-6.1zM869.3 851.0h9.1v8.6h-9.1zM950.7 854.3H1067.3v2H950.7zM950.7 847.5h13.7v15.6h-13.7zM967.4 847.5h3.0v15.6h-3.0zM972.0 847.5h2.1v15.6h-2.1zM976.5 847.5h4.6v15.6h-4.6zM985.7 847.5h1.8v15.6h-1.8zM993.6 847.5h1.8v15.6h-1.8zM999.7 847.5h1.8v15.6h-1.8zM1006.4 847.5h3.0v15.6h-3.0zM1011.5 847.5h1.8v15.6h-1.8zM1014.9 847.5h1.8v15.6h-1.8zM1017.9 847.5h1.8v15.6h-1.8zM1037.1 847.5h1.8v15.6h-1.8zM1042.0 847.5h3.0v15.6h-3.0zM1046.6 847.5h3.0v15.6h-3.0zM1051.1 847.5h2.1v15.6h-2.1zM1055.7 847.5h1.8v15.6h-1.8zM1059.6 847.5h6.7v15.6h-6.7zM1030.4 851.0h1.5v8.6h-1.5zM1081.6 854.3H1119.6v2H1081.6zM1117.9 847.5h2.2v15.6h-2.2zM1081.6 847.5h3.0v15.6h-3.0zM1087.0 847.5h2.1v15.6h-2.1zM1093.7 847.5h8.2v15.6h-8.2zM1140.3 854.3H1154.0v2H1140.3zM1139.2 847.5h2.2v15.6h-2.2zM1152.9 847.5h2.2v15.6h-2.2zM1246.9 854.3H1389.1v2H1246.9zM1245.8 847.5h2.2v15.6h-2.2zM1256.3 847.5h1.8v15.6h-1.8zM1264.5 847.5h1.8v15.6h-1.8zM1308.7 847.5h1.8v15.6h-1.8zM1344.6 847.5h1.8v15.6h-1.8zM1352.2 847.5h1.8v15.6h-1.8zM1363.8 847.5h1.8v15.6h-1.8zM1368.7 847.5h4.3v15.6h-4.3zM1378.4 847.5h7.6v15.6h-7.6zM1293.5 851.0h1.5v8.6h-1.5zM1386.0 851.0h3.0v8.6h-3.0zM1394.5 854.3H1448.4v2H1394.5zM1396.7 847.5h4.9v15.6h-4.9zM1404.9 847.5h2.4v15.6h-2.4zM1410.1 847.5h1.8v15.6h-1.8zM1429.3 847.5h1.8v15.6h-1.8zM1433.8 847.5h7.0v15.6h-7.0zM1443.9 847.5h4.0v15.6h-4.0zM1394.5 851.0h8.2v8.6h-8.2zM1453.0 854.3H1460.6v2H1453.0zM1454.5 847.5h5.2v15.6h-5.2zM1475.2 854.3H1494.1v2H1475.2zM1493.0 847.5h2.2v15.6h-2.2zM1475.2 847.5h2.1v15.6h-2.1zM1478.3 847.5h2.1v15.6h-2.1zM1490.1 851.0h2.4v8.6h-2.4zM1526.7 854.3H1737.7v2H1526.7zM1525.6 847.5h2.2v15.6h-2.2zM1736.6 847.5h2.2v15.6h-2.2zM1577.8 847.5h1.8v15.6h-1.8zM1592.4 847.5h2.1v15.6h-2.1zM1596.1 847.5h1.8v15.6h-1.8zM1599.1 847.5h1.8v15.6h-1.8zM1601.6 847.5h1.8v15.6h-1.8zM1604.6 847.5h15.2v15.6h-15.2zM1633.2 847.5h4.9v15.6h-4.9zM1645.4 847.5h2.4v15.6h-2.4zM1649.4 847.5h6.1v15.6h-6.1zM1660.0 847.5h1.8v15.6h-1.8zM1664.6 847.5h2.1v15.6h-2.1zM1684.4 847.5h3.7v15.6h-3.7zM1691.1 847.5h2.4v15.6h-2.4zM1576.0 851.0h1.8v8.6h-1.8zM1622.9 851.0h2.1v8.6h-2.1zM1866.4 854.3H1931.0v2H1866.4zM1866.4 847.5h3.0v15.6h-3.0zM1870.7 847.5h2.4v15.6h-2.4zM1880.8 847.5h6.1v15.6h-6.1zM1924.9 847.5h2.4v15.6h-2.4zM1929.5 847.5h1.8v15.6h-1.8zM1918.5 851.0h1.5v8.6h-1.5zM1937.1 854.3H1967.5v2H1937.1zM1937.1 847.5h1.8v15.6h-1.8zM1940.1 847.5h2.4v15.6h-2.4zM1945.3 847.5h1.8v15.6h-1.8zM1952.0 847.5h1.8v15.6h-1.8zM1958.1 847.5h1.8v15.6h-1.8zM1962.6 847.5h1.8v15.6h-1.8zM1965.7 847.5h1.8v15.6h-1.8zM466.8 850h6.2v10.6h-6.2zM468.6 848.3h1.6v14h-1.6z" fill="#3b3a7e"/>
</g>
<text transform="translate(-1.5 33.0) scale(1.022 1)" font-size="43.6" fill="#231f20" stroke="#231f20" font-weight="bold">a</text>
<text transform="translate(743.5 32.3) scale(1.019 1)" font-size="44.4" fill="#231f20" stroke="#231f20">ATAC-seq in normal and 3PN embryos</text>
<text transform="translate(1971.8 184.1) scale(0.931 1)" font-size="32.2" fill="#231f20" stroke="#231f20" text-anchor="end">chr17:42,630,964-43,532,364</text>
<text transform="translate(332.8 302.1) scale(0.997 1)" font-size="37.7" fill="#2d5aa7" stroke="#2d5aa7" text-anchor="middle">Zygote 3PN</text>
<text transform="translate(332.8 368.9) scale(0.997 1)" font-size="37.7" fill="#3a8b47" stroke="#3a8b47" text-anchor="middle">2-cell</text>
<text transform="translate(332.8 435.2) scale(0.997 1)" font-size="37.7" fill="#3a8b47" stroke="#3a8b47" text-anchor="middle">2-cell 3PN</text>
<text transform="translate(332.8 501.7) scale(0.997 1)" font-size="37.7" fill="#7a41a1" stroke="#7a41a1" text-anchor="middle">4-cell 3PN</text>
<text transform="translate(332.8 567.8) scale(0.997 1)" font-size="37.7" fill="#c4692a" stroke="#c4692a" text-anchor="middle">8-cell</text>
<text transform="translate(332.8 633.7) scale(0.997 1)" font-size="37.7" fill="#c4692a" stroke="#c4692a" text-anchor="middle">8-cell 3PN</text>
<text transform="translate(332.8 700.5) scale(0.997 1)" font-size="37.7" fill="#d2479b" stroke="#d2479b" text-anchor="middle">ICM</text>
<text transform="translate(332.8 766.1) scale(0.997 1)" font-size="37.7" fill="#d2479b" stroke="#d2479b" text-anchor="middle">ICM 3PN</text>
<text transform="translate(332.8 832.8) scale(0.997 1)" font-size="37.7" fill="#8a4a2b" stroke="#8a4a2b" text-anchor="middle">hESC</text>
<text transform="translate(334.0 872.0) scale(1.000 1)" font-size="37.7" fill="#33348e" stroke="#33348e" text-anchor="middle">UCSC gene</text>
<text transform="translate(160.4 523.0) scale(1.035 1) rotate(-90)" font-size="44.9" fill="#231f20" stroke="#231f20" text-anchor="middle">ATAC-seq</text>
<rect x="192.3" y="275.1" width="4.5" height="549.2" fill="#1a1718"/>
<text transform="translate(458.0 892.6) scale(1.022 1)" font-size="29.5" fill="#231f20" stroke="#231f20" font-style="italic">FZD2</text>
<text transform="translate(860.0 892.6) scale(1.022 1)" font-size="29.5" fill="#231f20" stroke="#231f20" font-style="italic">GJC1</text>
<text transform="translate(1662.3 892.6) scale(1.022 1)" font-size="29.5" fill="#231f20" stroke="#231f20" font-style="italic">MAP3K14</text>
<path transform="translate(160 35) scale(0.05997)" d="M645 185 C595 183 565 215 570 255 C573 290 585 305 590 330 L585 442 L500 495 C465 520 442 560 437 610 L432 700 L415 820 L375 950 L335 1040 L287 1072 L280 1086 L312 1100 L300 1165 L355 1232 L395 1190 L397 1130 L440 1020 L490 900 L506 745 L510 880 L480 1010 L478 1100 L483 1300 L495 1450 L465 1560 L475 1660 L505 1800 L500 1860 L455 1920 L450 1965 L500 1987 L545 1960 L560 1820 L575 1650 L590 1500 L610 1380 L630 1240 L640 1130 L655 1250 L675 1390 L690 1500 L685 1650 L705 1800 L720 1950 L755 1987 L812 1960 L795 1900 L770 1850 L790 1700 L815 1580 L800 1450 L785 1300 L795 1100 L795 1010 L765 880 L769 745 L800 840 L850 960 L900 1070 L920 1130 L900 1200 L935 1217 L970 1217 L1000 1182 L1012 1160 L985 1110 L1017 1085 L975 1060 L945 1000 L905 900 L875 800 L858 700 L850 610 C847 560 825 525 790 500 L695 442 L705 330 C715 305 728 285 730 255 C733 215 700 183 645 185 Z" fill="#898a8d" stroke="#505154" stroke-width="10" stroke-linejoin="round"/>
<text transform="translate(-1.0 1076.0) scale(1.022 1)" font-size="44.4" fill="#231f20" stroke="#231f20" font-weight="bold">b</text>
<text transform="translate(686.0 1077.8) scale(1.019 1)" font-size="44.4" fill="#231f20" stroke="#231f20">ATAC-seq in 1-4 cell embryos</text>
<rect x="464.6" y="1487.8" width="1332" height="4.2" fill="#1a1718"/>
<text transform="translate(888.3 1551.3) scale(1.014 1)" font-size="37.3" fill="#231f20" stroke="#231f20" xml:space="preserve">2-cell  log<tspan font-size="21.6">2</tspan>(RPKM+1)</text>
<defs>
<filter id="b6" x="-30%" y="-30%" width="160%" height="160%"><feGaussianBlur stdDeviation="5"/></filter>
<filter id="b4" x="-30%" y="-30%" width="160%" height="160%"><feGaussianBlur stdDeviation="3.5"/></filter>
<filter id="b3" x="-30%" y="-30%" width="160%" height="160%"><feGaussianBlur stdDeviation="2.5"/></filter>
<filter id="b2" x="-40%" y="-60%" width="180%" height="220%"><feGaussianBlur stdDeviation="1.8"/></filter>
<clipPath id="clip0"><rect x="516.0" y="1160.5" width="306.2" height="223.6"/></clipPath><clipPath id="clip1"><rect x="998.1" y="1159.9" width="307.4" height="224.2"/></clipPath><clipPath id="clip2"><rect x="1481.0" y="1159.9" width="308.0" height="224.2"/></clipPath></defs>
<g>
<path d="M637.6 1280.4h2v2h-2zM643.7 1273.7h2v2h-2zM622.9 1290.1h2v2h-2zM680.5 1250.7h2v2h-2zM629.1 1305.8h2v2h-2zM638.7 1299.7h2v2h-2zM663.1 1265.4h2v2h-2zM617.7 1299.5h2v2h-2zM632.6 1287.0h2v2h-2zM640.5 1267.8h2v2h-2zM651.3 1277.2h2v2h-2zM661.4 1260.2h2v2h-2zM703.2 1243.1h2v2h-2zM667.9 1254.1h2v2h-2zM649.7 1277.6h2v2h-2zM651.4 1283.2h2v2h-2zM687.9 1245.2h2v2h-2zM640.2 1292.5h2v2h-2zM687.4 1241.8h2v2h-2zM665.1 1269.9h2v2h-2zM616.8 1277.3h2v2h-2zM677.0 1252.4h2v2h-2zM637.0 1288.9h2v2h-2zM625.0 1292.8h2v2h-2zM632.2 1293.0h2v2h-2zM670.3 1257.5h2v2h-2zM632.0 1267.0h2v2h-2zM672.1 1238.5h2v2h-2zM623.9 1278.3h2v2h-2zM681.0 1249.2h2v2h-2zM633.6 1274.2h2v2h-2zM641.8 1278.1h2v2h-2zM621.1 1297.6h2v2h-2zM657.2 1259.2h2v2h-2zM679.4 1243.8h2v2h-2zM682.8 1246.1h2v2h-2zM686.3 1253.2h2v2h-2zM631.5 1307.5h2v2h-2zM645.9 1293.6h2v2h-2zM659.6 1263.5h2v2h-2zM626.3 1299.0h2v2h-2zM669.0 1244.9h2v2h-2zM660.7 1261.0h2v2h-2zM675.0 1256.2h2v2h-2zM664.5 1276.4h2v2h-2zM642.9 1286.4h2v2h-2zM619.2 1290.5h2v2h-2zM626.0 1289.7h2v2h-2zM664.2 1261.6h2v2h-2zM692.5 1250.2h2v2h-2zM665.5 1262.4h2v2h-2zM635.7 1295.9h2v2h-2zM670.6 1260.0h2v2h-2zM654.1 1262.0h2v2h-2zM644.4 1281.6h2v2h-2zM657.0 1285.3h2v2h-2zM668.6 1270.9h2v2h-2zM678.8 1237.9h2v2h-2zM688.4 1254.1h2v2h-2zM681.3 1262.2h2v2h-2zM657.4 1257.1h2v2h-2zM670.9 1259.6h2v2h-2zM698.0 1251.6h2v2h-2zM646.0 1287.8h2v2h-2zM652.0 1277.4h2v2h-2zM681.6 1254.9h2v2h-2zM654.7 1260.3h2v2h-2zM643.6 1282.9h2v2h-2zM642.8 1284.7h2v2h-2zM668.8 1256.4h2v2h-2zM680.3 1255.1h2v2h-2zM678.5 1238.5h2v2h-2zM687.0 1231.1h2v2h-2zM743.0 1210.0h2v2h-2zM718.1 1215.8h2v2h-2zM721.2 1236.6h2v2h-2zM731.8 1215.8h2v2h-2zM691.1 1236.5h2v2h-2zM690.7 1230.7h2v2h-2zM709.5 1210.0h2v2h-2zM739.7 1200.8h2v2h-2zM689.6 1246.2h2v2h-2zM721.6 1216.9h2v2h-2zM734.9 1209.8h2v2h-2zM724.4 1223.2h2v2h-2zM701.2 1233.4h2v2h-2zM713.4 1214.0h2v2h-2zM729.4 1234.9h2v2h-2zM792.2 1155.2h2v2h-2zM770.8 1184.1h2v2h-2zM793.7 1156.8h2v2h-2zM769.6 1186.7h2v2h-2zM786.5 1174.4h2v2h-2zM797.9 1161.0h2v2h-2zM802.3 1157.4h2v2h-2zM544.7 1222.6h2v2h-2zM568.7 1233.0h2v2h-2zM546.9 1299.0h2v2h-2zM688.6 1345.9h2v2h-2zM612.3 1359.8h2v2h-2zM605.8 1373.7h2v2h-2z" fill="#cbe3e0" clip-path="url(#clip0)"/>
<g clip-path="url(#clip0)">
<polygon points="522.3,1327.4 522.3,1379.0 592.0,1379.8 604.3,1368.4 616.6,1335.6 626.4,1298.7 620.7,1288.9 608.4,1294.6 592.0,1309.3 571.5,1320.8 542.8,1323.3 526.4,1323.3" fill="#cfe2f2" filter="url(#b6)"/>
<polygon points="525.2,1330.7 525.2,1376.6 580.5,1376.6 591.1,1360.2 601.8,1333.9 611.6,1311.0 615.7,1301.1 610.8,1297.9 600.2,1306.1 586.2,1320.0 567.4,1327.8 542.8,1329.4" fill="#5ea3d3" filter="url(#b4)"/>
<polygon points="529.7,1337.2 529.7,1367.5 573.9,1369.2 585.4,1355.2 595.2,1333.9 601.8,1320.0 596.1,1318.4 584.6,1329.8 569.0,1335.2 546.9,1336.0" fill="#2f7dbf" filter="url(#b4)"/>
<polygon points="533.8,1343.0 533.8,1357.7 567.4,1361.0 579.7,1352.0 587.0,1338.0 575.6,1336.4 551.0,1338.0" fill="#1f5ca8" filter="url(#b4)"/>
<ellipse cx="558.4" cy="1351.6" rx="10" ry="2.2" fill="#43286a" opacity="0.85" filter="url(#b2)"/>
</g>
<rect x="516.0" y="1160.5" width="306.2" height="223.6" fill="none" stroke="#000" stroke-width="2.8"/>
<rect x="728.5" y="1331.7" width="93.7" height="52.4" fill="#fff" stroke="#000" stroke-width="2.8"/>
<text transform="translate(743.3 1367.8) scale(1.025 1)" font-size="33.4" fill="#000" stroke="#000">0.88</text>
<path d="M525.1 1384.1v14.1M502.2 1380.6H516.0M568.7 1384.1v14.1M502.2 1345.9H516.0M612.3 1384.1v14.1M502.2 1311.1H516.0M655.9 1384.1v14.1M502.2 1276.4H516.0M699.6 1384.1v14.1M502.2 1241.7H516.0M743.2 1384.1v14.1M502.2 1206.9H516.0M786.8 1384.1v14.1M502.2 1172.2H516.0M525.1 1384.1H786.8M516.0 1380.6V1172.2" stroke="#000" stroke-width="2.7" stroke-linecap="round" fill="none"/>
<text transform="translate(525.1 1432.6) scale(1.000 1)" font-size="22.2" fill="#000" stroke="#000" text-anchor="middle">0</text>
<text transform="translate(484.0 1380.6) scale(1.040 1) rotate(-90)" font-size="22.2" fill="#000" stroke="#000" text-anchor="middle">0</text>
<text transform="translate(568.7 1432.6) scale(1.000 1)" font-size="22.2" fill="#000" stroke="#000" text-anchor="middle">2</text>
<text transform="translate(484.0 1345.9) scale(1.040 1) rotate(-90)" font-size="22.2" fill="#000" stroke="#000" text-anchor="middle">2</text>
<text transform="translate(612.3 1432.6) scale(1.000 1)" font-size="22.2" fill="#000" stroke="#000" text-anchor="middle">4</text>
<text transform="translate(484.0 1311.1) scale(1.040 1) rotate(-90)" font-size="22.2" fill="#000" stroke="#000" text-anchor="middle">4</text>
<text transform="translate(655.9 1432.6) scale(1.000 1)" font-size="22.2" fill="#000" stroke="#000" text-anchor="middle">6</text>
<text transform="translate(484.0 1276.4) scale(1.040 1) rotate(-90)" font-size="22.2" fill="#000" stroke="#000" text-anchor="middle">6</text>
<text transform="translate(699.6 1432.6) scale(1.000 1)" font-size="22.2" fill="#000" stroke="#000" text-anchor="middle">8</text>
<text transform="translate(484.0 1241.7) scale(1.040 1) rotate(-90)" font-size="22.2" fill="#000" stroke="#000" text-anchor="middle">8</text>
<text transform="translate(743.2 1432.6) scale(1.000 1)" font-size="22.2" fill="#000" stroke="#000" text-anchor="middle">10</text>
<text transform="translate(484.0 1206.9) scale(1.040 1) rotate(-90)" font-size="22.2" fill="#000" stroke="#000" text-anchor="middle">10</text>
<text transform="translate(786.8 1432.6) scale(1.000 1)" font-size="22.2" fill="#000" stroke="#000" text-anchor="middle">12</text>
<text transform="translate(484.0 1172.2) scale(1.040 1) rotate(-90)" font-size="22.2" fill="#000" stroke="#000" text-anchor="middle">12</text>
<text transform="translate(393.3 1278.7) scale(1.000 1) rotate(-90)" font-size="37.1" fill="#231f20" stroke="#231f20" text-anchor="middle">Zygote 3PN</text>
<text transform="translate(437.8 1395.3) rotate(-90)" font-size="37.8" fill="#231f20" stroke="#231f20">log<tspan font-size="19" dy="13">2</tspan><tspan dy="-13">(RPKM+1)</tspan></text>
</g>
<g>
<path d="M1123.9 1291.3h2v2h-2zM1116.3 1290.3h2v2h-2zM1165.6 1263.8h2v2h-2zM1151.2 1257.5h2v2h-2zM1153.7 1269.0h2v2h-2zM1131.6 1305.1h2v2h-2zM1160.4 1254.2h2v2h-2zM1135.3 1294.8h2v2h-2zM1132.6 1281.4h2v2h-2zM1141.8 1283.0h2v2h-2zM1104.3 1305.4h2v2h-2zM1161.7 1254.9h2v2h-2zM1160.4 1258.2h2v2h-2zM1136.5 1290.3h2v2h-2zM1158.2 1269.7h2v2h-2zM1173.6 1250.0h2v2h-2zM1136.6 1264.1h2v2h-2zM1134.9 1271.6h2v2h-2zM1139.3 1267.2h2v2h-2zM1165.8 1261.3h2v2h-2zM1170.4 1259.8h2v2h-2zM1145.1 1264.4h2v2h-2zM1136.4 1278.1h2v2h-2zM1164.5 1252.3h2v2h-2zM1152.0 1264.1h2v2h-2zM1158.5 1263.0h2v2h-2zM1145.4 1286.4h2v2h-2zM1117.4 1289.1h2v2h-2zM1138.2 1295.4h2v2h-2zM1133.9 1274.0h2v2h-2zM1148.9 1272.5h2v2h-2zM1161.7 1261.3h2v2h-2zM1115.5 1298.1h2v2h-2zM1124.7 1287.4h2v2h-2zM1159.6 1258.4h2v2h-2zM1122.0 1282.1h2v2h-2zM1128.0 1275.2h2v2h-2zM1141.8 1271.3h2v2h-2zM1141.6 1277.0h2v2h-2zM1152.8 1267.5h2v2h-2zM1117.4 1305.3h2v2h-2zM1164.0 1249.3h2v2h-2zM1172.4 1228.1h2v2h-2zM1168.5 1252.0h2v2h-2zM1153.5 1261.5h2v2h-2zM1151.1 1252.9h2v2h-2zM1102.3 1291.1h2v2h-2zM1105.7 1292.7h2v2h-2zM1170.1 1255.5h2v2h-2zM1138.2 1285.6h2v2h-2zM1151.6 1264.4h2v2h-2zM1117.1 1296.4h2v2h-2zM1135.1 1278.1h2v2h-2zM1118.2 1280.7h2v2h-2zM1175.2 1251.9h2v2h-2zM1112.8 1303.5h2v2h-2zM1153.0 1255.4h2v2h-2zM1130.4 1272.1h2v2h-2zM1098.5 1317.4h2v2h-2zM1104.2 1291.1h2v2h-2zM1131.9 1278.1h2v2h-2zM1152.0 1275.0h2v2h-2zM1155.4 1274.9h2v2h-2zM1139.4 1264.4h2v2h-2zM1149.4 1278.4h2v2h-2zM1129.1 1296.8h2v2h-2zM1160.0 1269.0h2v2h-2zM1173.2 1263.4h2v2h-2zM1157.2 1270.2h2v2h-2zM1158.8 1262.1h2v2h-2zM1141.2 1278.4h2v2h-2zM1144.0 1273.4h2v2h-2zM1219.5 1218.5h2v2h-2zM1199.0 1228.8h2v2h-2zM1200.4 1236.5h2v2h-2zM1210.0 1243.9h2v2h-2zM1162.2 1260.3h2v2h-2zM1181.8 1240.8h2v2h-2zM1177.9 1242.4h2v2h-2zM1190.0 1247.7h2v2h-2zM1206.0 1233.4h2v2h-2zM1217.6 1220.8h2v2h-2zM1164.3 1257.2h2v2h-2zM1175.0 1253.2h2v2h-2zM1199.4 1225.4h2v2h-2zM1218.3 1220.5h2v2h-2zM1184.1 1236.8h2v2h-2zM1187.5 1227.0h2v2h-2zM1263.7 1168.3h2v2h-2zM1256.9 1189.8h2v2h-2zM1244.8 1190.0h2v2h-2zM1265.6 1194.0h2v2h-2zM1254.8 1201.3h2v2h-2zM1246.1 1203.5h2v2h-2zM1266.3 1184.0h2v2h-2zM1027.3 1226.8h2v2h-2zM1051.3 1236.7h2v2h-2zM1029.5 1299.5h2v2h-2zM1171.1 1344.1h2v2h-2zM1094.9 1357.3h2v2h-2zM1088.3 1370.5h2v2h-2z" fill="#cbe3e0" clip-path="url(#clip1)"/>
<g clip-path="url(#clip1)">
<polygon points="1004.8,1341.3 1004.8,1378.2 1039.2,1379.8 1059.7,1368.4 1084.3,1339.7 1108.9,1304.4 1103.1,1297.9 1080.2,1306.9 1047.4,1325.7 1018.7,1339.7" fill="#cfe2f2" filter="url(#b6)"/>
<polygon points="1007.6,1346.2 1007.6,1376.1 1035.9,1377.0 1055.6,1364.3 1080.2,1335.6 1100.7,1309.3 1094.9,1304.4 1076.1,1313.4 1047.4,1330.7 1022.8,1343.8" fill="#5ea3d3" filter="url(#b4)"/>
<polygon points="1012.1,1352.0 1012.1,1371.6 1032.6,1372.5 1051.5,1360.2 1076.1,1333.1 1092.5,1314.3 1084.3,1313.4 1063.8,1325.7 1039.2,1339.7 1022.8,1348.7" fill="#2f7dbf" filter="url(#b4)"/>
<polygon points="1022.8,1356.9 1026.9,1365.9 1039.2,1364.3 1059.7,1345.4 1078.5,1326.6 1072.0,1325.7 1051.5,1338.0 1031.0,1350.3" fill="#1f5ca8" filter="url(#b3)"/>
<ellipse cx="0" cy="0" rx="15" ry="3.4" fill="#33286a" opacity="0.9" filter="url(#b3)" transform="translate(1043.3 1351.1) rotate(-36)"/>
</g>
<rect x="998.1" y="1159.9" width="307.4" height="224.2" fill="none" stroke="#000" stroke-width="2.8"/>
<rect x="1210.9" y="1331.7" width="94.6" height="52.4" fill="#fff" stroke="#000" stroke-width="2.8"/>
<text transform="translate(1222.7 1371.3) scale(1.025 1)" font-size="33.4" fill="#000" stroke="#000">0.93</text>
<path d="M1007.7 1384.1v14.1M984.8 1377.1H998.1M1051.3 1384.1v14.1M984.8 1344.1H998.1M1094.9 1384.1v14.1M984.8 1311.0H998.1M1138.5 1384.1v14.1M984.8 1278.0H998.1M1182.0 1384.1v14.1M984.8 1245.0H998.1M1225.6 1384.1v14.1M984.8 1211.9H998.1M1269.2 1384.1v14.1M984.8 1178.9H998.1M1007.7 1384.1H1269.2M998.1 1377.1V1178.9" stroke="#000" stroke-width="2.7" stroke-linecap="round" fill="none"/>
<text transform="translate(1007.7 1432.6) scale(1.000 1)" font-size="22.2" fill="#000" stroke="#000" text-anchor="middle">0</text>
<text transform="translate(966.5 1377.1) scale(1.040 1) rotate(-90)" font-size="22.2" fill="#000" stroke="#000" text-anchor="middle">0</text>
<text transform="translate(1051.3 1432.6) scale(1.000 1)" font-size="22.2" fill="#000" stroke="#000" text-anchor="middle">2</text>
<text transform="translate(966.5 1344.1) scale(1.040 1) rotate(-90)" font-size="22.2" fill="#000" stroke="#000" text-anchor="middle">2</text>
<text transform="translate(1094.9 1432.6) scale(1.000 1)" font-size="22.2" fill="#000" stroke="#000" text-anchor="middle">4</text>
<text transform="translate(966.5 1311.0) scale(1.040 1) rotate(-90)" font-size="22.2" fill="#000" stroke="#000" text-anchor="middle">4</text>
<text transform="translate(1138.5 1432.6) scale(1.000 1)" font-size="22.2" fill="#000" stroke="#000" text-anchor="middle">6</text>
<text transform="translate(966.5 1278.0) scale(1.040 1) rotate(-90)" font-size="22.2" fill="#000" stroke="#000" text-anchor="middle">6</text>
<text transform="translate(1182.0 1432.6) scale(1.000 1)" font-size="22.2" fill="#000" stroke="#000" text-anchor="middle">8</text>
<text transform="translate(966.5 1245.0) scale(1.040 1) rotate(-90)" font-size="22.2" fill="#000" stroke="#000" text-anchor="middle">8</text>
<text transform="translate(1225.6 1432.6) scale(1.000 1)" font-size="22.2" fill="#000" stroke="#000" text-anchor="middle">10</text>
<text transform="translate(966.5 1211.9) scale(1.040 1) rotate(-90)" font-size="22.2" fill="#000" stroke="#000" text-anchor="middle">10</text>
<text transform="translate(1269.2 1432.6) scale(1.000 1)" font-size="22.2" fill="#000" stroke="#000" text-anchor="middle">12</text>
<text transform="translate(966.5 1178.9) scale(1.040 1) rotate(-90)" font-size="22.2" fill="#000" stroke="#000" text-anchor="middle">12</text>
<text transform="translate(875.1 1279.2) scale(1.000 1) rotate(-90)" font-size="37.1" fill="#231f20" stroke="#231f20" text-anchor="middle">2-cell 3PN</text>
<text transform="translate(919.9 1395.3) rotate(-90)" font-size="37.8" fill="#231f20" stroke="#231f20">log<tspan font-size="19" dy="13">2</tspan><tspan dy="-13">(RPKM+1)</tspan></text>
</g>
<g>
<path d="M1632.1 1280.8h2v2h-2zM1630.4 1281.0h2v2h-2zM1635.0 1265.0h2v2h-2zM1618.2 1277.6h2v2h-2zM1627.8 1270.3h2v2h-2zM1627.9 1266.8h2v2h-2zM1616.8 1266.8h2v2h-2zM1639.1 1276.1h2v2h-2zM1637.8 1261.1h2v2h-2zM1650.9 1266.3h2v2h-2zM1609.3 1274.0h2v2h-2zM1617.7 1279.7h2v2h-2zM1640.8 1258.5h2v2h-2zM1666.8 1259.1h2v2h-2zM1592.5 1300.3h2v2h-2zM1613.2 1284.0h2v2h-2zM1626.2 1273.8h2v2h-2zM1624.7 1271.2h2v2h-2zM1607.2 1283.7h2v2h-2zM1609.1 1300.1h2v2h-2zM1598.9 1291.4h2v2h-2zM1630.2 1275.8h2v2h-2zM1614.7 1268.1h2v2h-2zM1600.2 1302.9h2v2h-2zM1597.9 1290.7h2v2h-2zM1645.3 1251.5h2v2h-2zM1593.7 1301.5h2v2h-2zM1583.9 1303.5h2v2h-2zM1630.7 1255.2h2v2h-2zM1592.5 1289.9h2v2h-2zM1587.2 1289.0h2v2h-2zM1633.9 1262.9h2v2h-2zM1609.6 1292.2h2v2h-2zM1591.1 1307.6h2v2h-2zM1664.2 1260.8h2v2h-2zM1618.1 1286.8h2v2h-2zM1595.4 1277.2h2v2h-2zM1649.2 1249.0h2v2h-2zM1606.8 1279.2h2v2h-2zM1615.5 1274.6h2v2h-2zM1630.1 1264.9h2v2h-2zM1630.2 1262.9h2v2h-2zM1647.8 1255.2h2v2h-2zM1613.8 1279.3h2v2h-2zM1647.4 1263.0h2v2h-2zM1578.5 1305.0h2v2h-2zM1600.2 1294.1h2v2h-2zM1657.4 1250.5h2v2h-2zM1594.9 1307.5h2v2h-2zM1604.5 1278.9h2v2h-2zM1622.9 1283.7h2v2h-2zM1618.7 1288.5h2v2h-2zM1610.2 1280.6h2v2h-2zM1641.5 1270.0h2v2h-2zM1637.8 1272.3h2v2h-2zM1649.6 1274.3h2v2h-2zM1648.6 1259.6h2v2h-2zM1638.0 1273.4h2v2h-2zM1621.6 1272.1h2v2h-2zM1653.2 1247.6h2v2h-2zM1594.7 1290.7h2v2h-2zM1659.7 1249.6h2v2h-2zM1586.4 1308.7h2v2h-2zM1604.4 1291.8h2v2h-2zM1628.3 1274.0h2v2h-2zM1594.5 1294.0h2v2h-2zM1600.0 1301.6h2v2h-2zM1603.0 1287.0h2v2h-2zM1597.5 1301.7h2v2h-2zM1627.3 1282.6h2v2h-2zM1614.6 1301.2h2v2h-2zM1593.8 1291.5h2v2h-2zM1680.0 1230.6h2v2h-2zM1708.0 1220.0h2v2h-2zM1677.0 1231.6h2v2h-2zM1705.7 1215.8h2v2h-2zM1646.7 1251.9h2v2h-2zM1695.3 1229.3h2v2h-2zM1664.4 1241.4h2v2h-2zM1672.3 1249.0h2v2h-2zM1693.5 1226.6h2v2h-2zM1689.1 1220.4h2v2h-2zM1657.9 1266.5h2v2h-2zM1703.3 1215.5h2v2h-2zM1699.0 1218.1h2v2h-2zM1687.2 1236.3h2v2h-2zM1697.0 1204.6h2v2h-2zM1678.4 1237.4h2v2h-2zM1765.0 1160.9h2v2h-2zM1754.0 1170.1h2v2h-2zM1735.1 1187.5h2v2h-2zM1725.6 1188.1h2v2h-2zM1737.4 1191.6h2v2h-2zM1723.8 1182.4h2v2h-2zM1762.5 1170.7h2v2h-2zM1510.9 1227.3h2v2h-2zM1534.8 1237.1h2v2h-2zM1513.1 1299.7h2v2h-2zM1654.5 1344.2h2v2h-2zM1578.3 1357.3h2v2h-2zM1571.8 1370.5h2v2h-2z" fill="#cbe3e0" clip-path="url(#clip2)"/>
<g clip-path="url(#clip2)">
<polygon points="1488.4,1341.3 1488.4,1378.2 1522.8,1379.8 1543.3,1368.4 1567.9,1339.7 1592.5,1304.4 1586.7,1297.9 1563.8,1306.9 1531.0,1325.7 1502.3,1339.7" fill="#cfe2f2" filter="url(#b6)"/>
<polygon points="1491.2,1346.2 1491.2,1376.1 1519.5,1377.0 1539.2,1364.3 1563.8,1335.6 1584.3,1309.3 1578.5,1304.4 1559.7,1313.4 1531.0,1330.7 1506.4,1343.8" fill="#5ea3d3" filter="url(#b4)"/>
<polygon points="1495.7,1352.0 1495.7,1371.6 1516.2,1372.5 1535.1,1360.2 1559.7,1333.1 1576.1,1314.3 1567.9,1313.4 1547.4,1325.7 1522.8,1339.7 1506.4,1348.7" fill="#2f7dbf" filter="url(#b4)"/>
<polygon points="1506.4,1356.9 1510.5,1365.9 1522.8,1364.3 1543.3,1345.4 1562.1,1326.6 1555.6,1325.7 1535.1,1338.0 1514.6,1350.3" fill="#1f5ca8" filter="url(#b3)"/>
<ellipse cx="0" cy="0" rx="15" ry="3.4" fill="#33286a" opacity="0.9" filter="url(#b3)" transform="translate(1526.9 1351.1) rotate(-36)"/>
</g>
<rect x="1481.0" y="1159.9" width="308.0" height="224.2" fill="none" stroke="#000" stroke-width="2.8"/>
<rect x="1694.1" y="1331.7" width="94.9" height="52.4" fill="#fff" stroke="#000" stroke-width="2.8"/>
<text transform="translate(1705.7 1371.3) scale(1.025 1)" font-size="33.4" fill="#000" stroke="#000">0.95</text>
<path d="M1491.3 1384.1v14.1M1467.8 1377.1H1481.0M1534.8 1384.1v14.1M1467.8 1344.2H1481.0M1578.3 1384.1v14.1M1467.8 1311.2H1481.0M1621.8 1384.1v14.1M1467.8 1278.3H1481.0M1665.4 1384.1v14.1M1467.8 1245.4H1481.0M1708.9 1384.1v14.1M1467.8 1212.4H1481.0M1752.4 1384.1v14.1M1467.8 1179.5H1481.0M1491.3 1384.1H1752.4M1481.0 1377.1V1179.5" stroke="#000" stroke-width="2.7" stroke-linecap="round" fill="none"/>
<text transform="translate(1491.3 1432.6) scale(1.000 1)" font-size="22.2" fill="#000" stroke="#000" text-anchor="middle">0</text>
<text transform="translate(1448.8 1377.1) scale(1.040 1) rotate(-90)" font-size="22.2" fill="#000" stroke="#000" text-anchor="middle">0</text>
<text transform="translate(1534.8 1432.6) scale(1.000 1)" font-size="22.2" fill="#000" stroke="#000" text-anchor="middle">2</text>
<text transform="translate(1448.8 1344.2) scale(1.040 1) rotate(-90)" font-size="22.2" fill="#000" stroke="#000" text-anchor="middle">2</text>
<text transform="translate(1578.3 1432.6) scale(1.000 1)" font-size="22.2" fill="#000" stroke="#000" text-anchor="middle">4</text>
<text transform="translate(1448.8 1311.2) scale(1.040 1) rotate(-90)" font-size="22.2" fill="#000" stroke="#000" text-anchor="middle">4</text>
<text transform="translate(1621.8 1432.6) scale(1.000 1)" font-size="22.2" fill="#000" stroke="#000" text-anchor="middle">6</text>
<text transform="translate(1448.8 1278.3) scale(1.040 1) rotate(-90)" font-size="22.2" fill="#000" stroke="#000" text-anchor="middle">6</text>
<text transform="translate(1665.4 1432.6) scale(1.000 1)" font-size="22.2" fill="#000" stroke="#000" text-anchor="middle">8</text>
<text transform="translate(1448.8 1245.4) scale(1.040 1) rotate(-90)" font-size="22.2" fill="#000" stroke="#000" text-anchor="middle">8</text>
<text transform="translate(1708.9 1432.6) scale(1.000 1)" font-size="22.2" fill="#000" stroke="#000" text-anchor="middle">10</text>
<text transform="translate(1448.8 1212.4) scale(1.040 1) rotate(-90)" font-size="22.2" fill="#000" stroke="#000" text-anchor="middle">10</text>
<text transform="translate(1752.4 1432.6) scale(1.000 1)" font-size="22.2" fill="#000" stroke="#000" text-anchor="middle">12</text>
<text transform="translate(1448.8 1179.5) scale(1.040 1) rotate(-90)" font-size="22.2" fill="#000" stroke="#000" text-anchor="middle">12</text>
<text transform="translate(1357.5 1279.2) scale(1.000 1) rotate(-90)" font-size="37.1" fill="#231f20" stroke="#231f20" text-anchor="middle">4-cell 3PN</text>
<text transform="translate(1402.8 1395.3) rotate(-90)" font-size="37.8" fill="#231f20" stroke="#231f20">log<tspan font-size="19" dy="13">2</tspan><tspan dy="-13">(RPKM+1)</tspan></text>
</g>
<text transform="translate(-1.0 1725.6) scale(1.022 1)" font-size="44.4" fill="#231f20" stroke="#231f20" font-weight="bold">c</text>
<text transform="translate(94.8 1725.3) scale(1.029 1)" font-size="44.4" fill="#231f20" stroke="#231f20">Hierachical clustering of ATAC-seq signals</text>
<path d="M433.8 2017.0H216.7V2430.4H540.4M615.3 1889.3H433.8V2159.1H550.1M575.0 2069.6H550.1V2249.7H615.3M615.3 2009.5H575.0V2129.6H615.3M615.3 2370.3H540.4V2490.5H615.3" fill="none" stroke="#000" stroke-width="9" stroke-linecap="round" stroke-linejoin="round"/>
<text transform="translate(646.6 1900.1) scale(1.003 1)" font-size="37.7" fill="#231f20" stroke="#231f20">Zygote 3PN</text>
<text transform="translate(646.6 2020.3) scale(1.003 1)" font-size="37.7" fill="#231f20" stroke="#231f20">2-cell</text>
<text transform="translate(646.6 2140.4) scale(1.003 1)" font-size="37.7" fill="#231f20" stroke="#231f20">2-cell 3PN</text>
<text transform="translate(646.6 2260.5) scale(1.003 1)" font-size="37.7" fill="#231f20" stroke="#231f20">4-cell 3PN</text>
<text transform="translate(646.6 2381.1) scale(1.003 1)" font-size="37.7" fill="#231f20" stroke="#231f20">8-cell</text>
<text transform="translate(646.6 2501.3) scale(1.003 1)" font-size="37.7" fill="#231f20" stroke="#231f20">8-cell 3PN</text>
</svg>
</body></html>
